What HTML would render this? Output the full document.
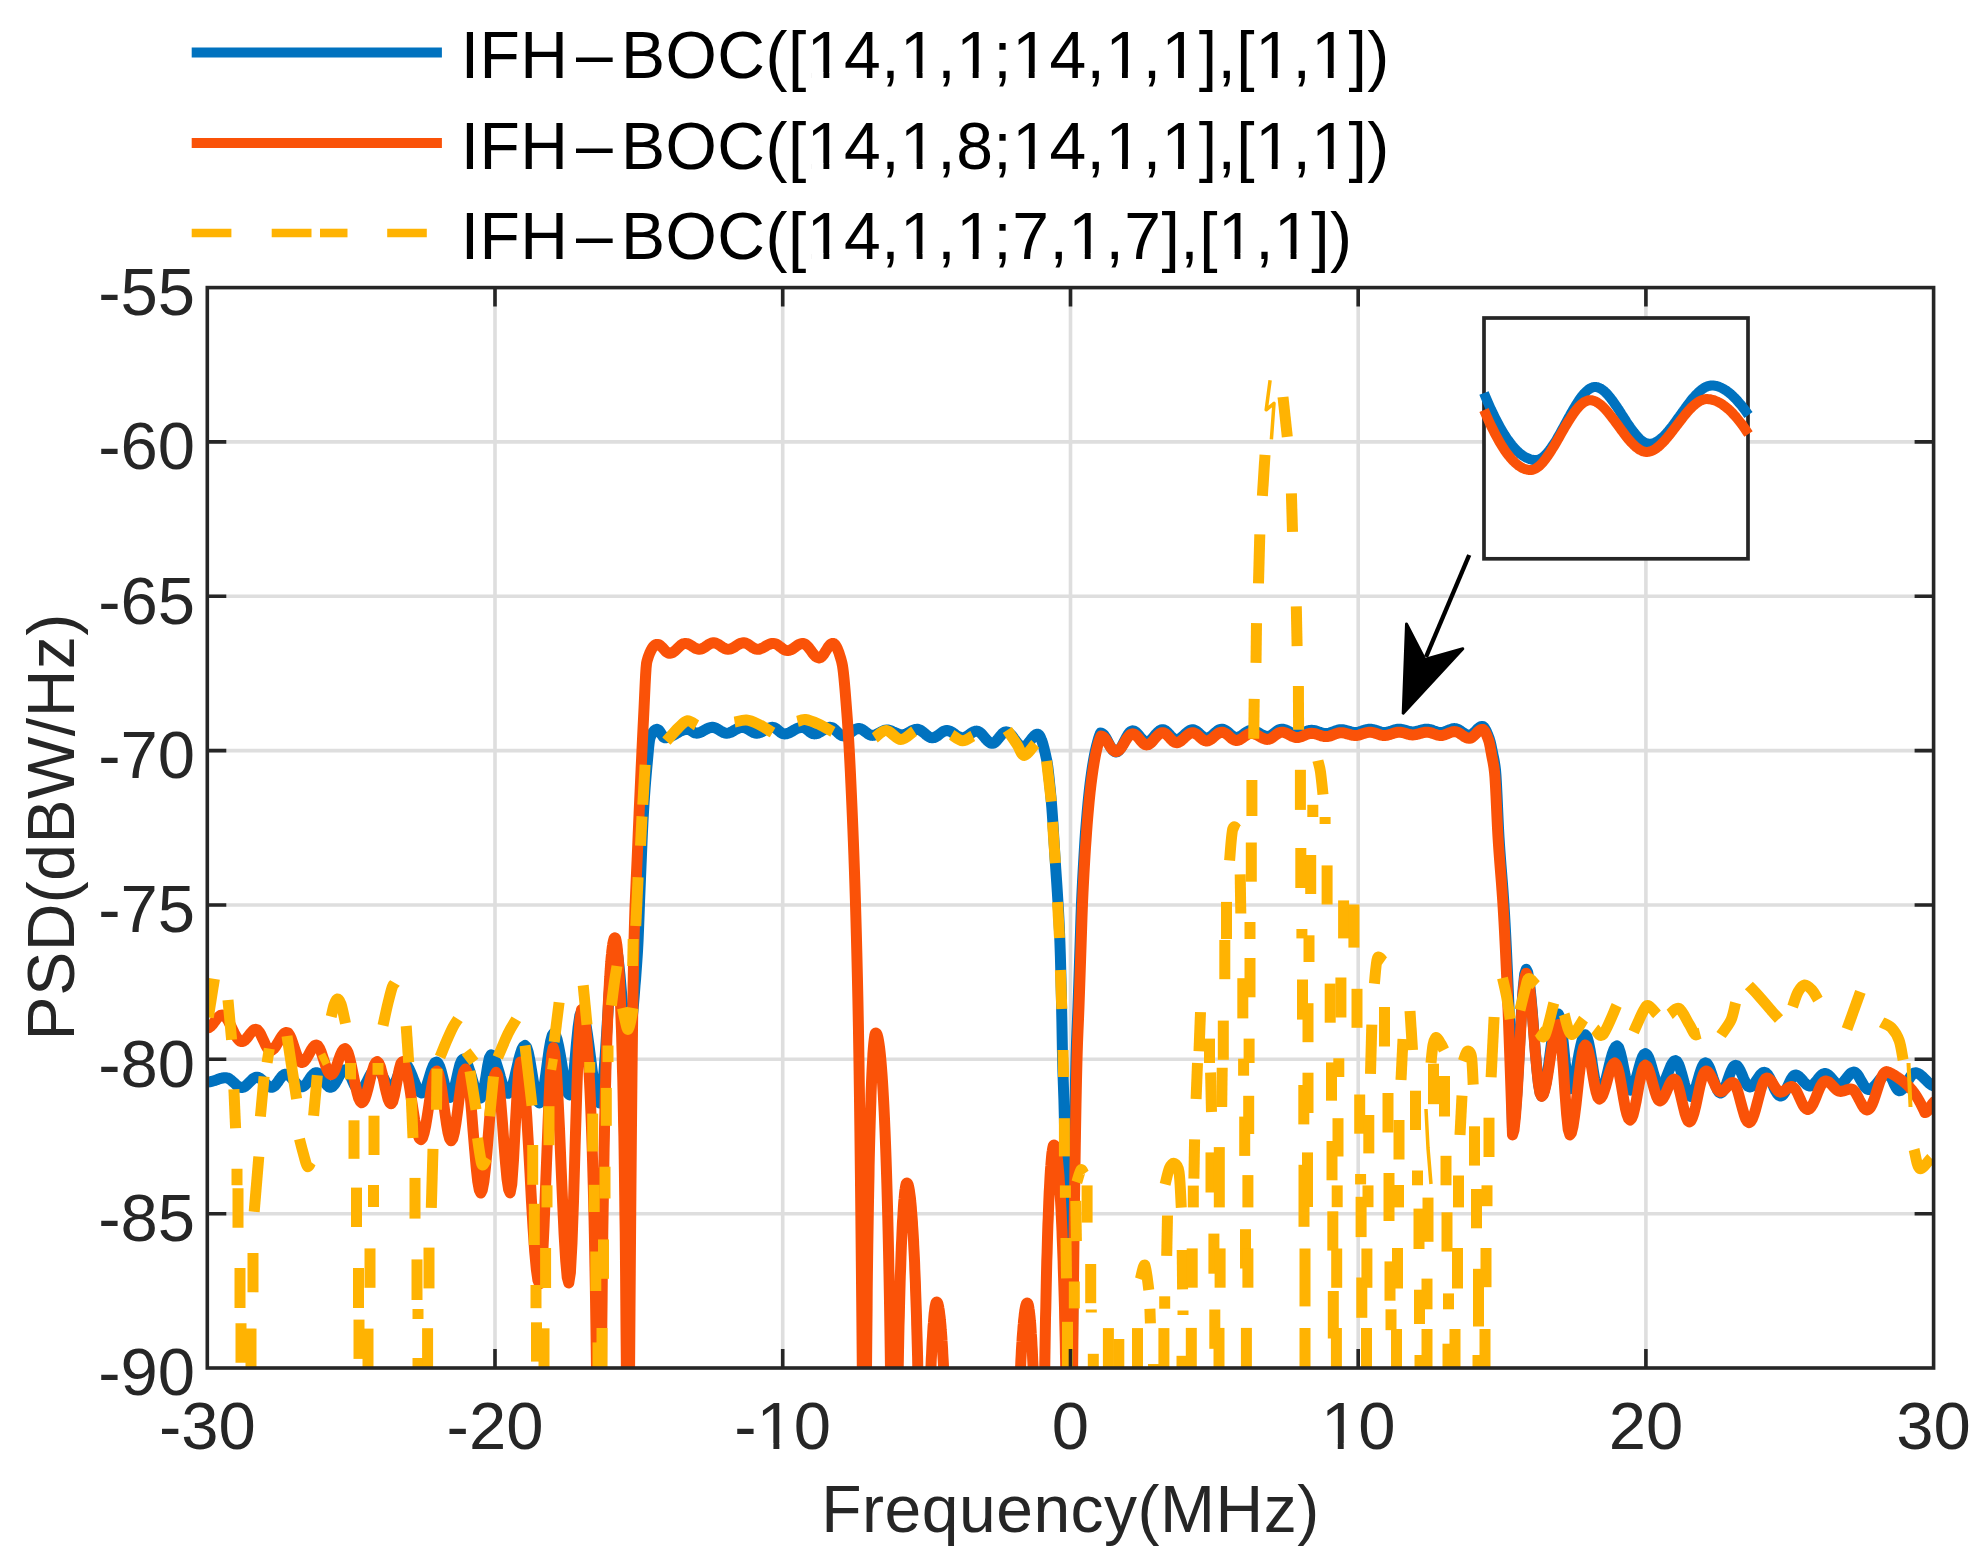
<!DOCTYPE html>
<html><head><meta charset="utf-8"><title>PSD</title>
<style>html,body{margin:0;padding:0;background:#fff;overflow:hidden}svg{display:block}</style>
</head><body>
<svg xmlns="http://www.w3.org/2000/svg" width="1983" height="1557" viewBox="0 0 1983 1557">
<rect x="0" y="0" width="1983" height="1557" fill="#ffffff"/>
<path d="M495.0 287.6V1368.0 M782.7 287.6V1368.0 M1070.5 287.6V1368.0 M1358.2 287.6V1368.0 M1645.9 287.6V1368.0 M207.3 441.9H1933.6 M207.3 596.3H1933.6 M207.3 750.6H1933.6 M207.3 905.0H1933.6 M207.3 1059.3H1933.6 M207.3 1213.7H1933.6" stroke="#dedede" stroke-width="3.6" fill="none"/>
<clipPath id="ax"><rect x="207.3" y="287.6" width="1726.3" height="1080.4"/></clipPath>
<g clip-path="url(#ax)">
<path d="M207.3 1082.0 208.8 1081.9 210.4 1081.7 211.9 1081.4 213.4 1080.9 215.0 1080.4 216.5 1079.9 218.0 1079.3 219.6 1078.8 221.1 1078.3 222.6 1078.0 224.2 1077.8 225.7 1077.7 227.3 1077.9 228.9 1078.6 230.5 1079.7 232.1 1081.1 233.8 1082.6 235.4 1084.1 237.0 1085.5 238.6 1086.6 240.2 1087.3 241.8 1087.5 243.3 1087.2 244.8 1086.5 246.3 1085.4 247.8 1083.9 249.3 1082.4 250.9 1080.8 252.4 1079.3 253.9 1078.2 255.4 1077.5 256.9 1077.2 258.5 1077.5 260.2 1078.4 261.8 1079.7 263.4 1081.4 265.1 1083.1 266.7 1084.8 268.3 1086.1 270.0 1087.0 271.6 1087.3 273.2 1086.9 274.7 1085.8 276.3 1084.0 277.9 1081.9 279.4 1079.6 281.0 1077.5 282.6 1075.7 284.1 1074.6 285.7 1074.2 287.3 1074.5 288.9 1075.4 290.5 1076.8 292.1 1078.6 293.8 1080.5 295.4 1082.4 297.0 1084.2 298.6 1085.6 300.2 1086.5 301.8 1086.8 303.4 1086.4 305.0 1085.2 306.7 1083.3 308.3 1081.0 309.9 1078.5 311.5 1076.2 313.2 1074.3 314.8 1073.1 316.4 1072.7 318.0 1073.1 319.6 1074.4 321.1 1076.3 322.7 1078.7 324.3 1081.3 325.9 1083.6 327.4 1085.6 329.0 1086.9 330.6 1087.3 332.2 1086.8 333.8 1085.2 335.5 1082.9 337.1 1080.0 338.7 1077.0 340.3 1074.1 342.0 1071.8 343.6 1070.2 345.2 1069.7 346.8 1070.3 348.3 1072.1 349.9 1074.9 351.5 1078.3 353.0 1081.9 354.6 1085.3 356.2 1088.1 357.7 1089.9 359.3 1090.5 360.9 1090.1 362.4 1088.8 364.0 1086.7 365.6 1084.1 367.1 1081.2 368.7 1078.0 370.2 1075.1 371.8 1072.5 373.4 1070.4 374.9 1069.1 376.5 1068.7 378.1 1069.3 379.7 1071.0 381.4 1073.5 383.0 1076.7 384.6 1080.0 386.2 1083.2 387.9 1085.7 389.5 1087.4 391.1 1088.0 392.8 1087.1 394.5 1084.5 396.1 1080.6 397.8 1076.0 399.5 1071.4 401.1 1067.5 402.8 1064.9 404.5 1064.0 406.1 1064.6 407.7 1066.3 409.2 1069.0 410.8 1072.5 412.4 1076.4 414.0 1080.6 415.6 1084.5 417.2 1088.0 418.7 1090.7 420.3 1092.4 421.9 1093.0 423.5 1092.1 425.1 1089.4 426.8 1085.2 428.4 1080.2 430.0 1074.8 431.6 1069.8 433.3 1065.6 434.9 1062.9 436.5 1062.0 438.0 1063.1 439.5 1066.1 441.1 1070.8 442.6 1076.6 444.1 1082.7 445.6 1088.5 447.2 1093.2 448.7 1096.2 450.2 1097.3 451.8 1095.8 453.4 1091.7 455.1 1085.5 456.7 1078.2 458.3 1070.8 459.9 1064.6 461.6 1060.5 463.2 1059.0 464.8 1059.8 466.4 1062.1 468.0 1065.7 469.6 1070.4 471.2 1075.7 472.8 1081.3 474.4 1086.6 476.0 1091.3 477.6 1094.9 479.2 1097.2 480.8 1098.0 482.5 1095.1 484.2 1087.2 486.0 1076.4 487.7 1065.6 489.4 1057.7 491.1 1054.8 492.6 1055.6 494.2 1057.9 495.7 1061.4 497.2 1066.1 498.8 1071.3 500.3 1076.8 501.9 1082.0 503.4 1086.7 504.9 1090.2 506.5 1092.5 508.0 1093.3 509.5 1092.3 511.1 1089.5 512.6 1085.1 514.2 1079.3 515.7 1072.8 517.3 1066.0 518.8 1059.5 520.4 1053.7 521.9 1049.3 523.5 1046.5 525.0 1045.5 526.6 1047.2 528.2 1052.2 529.8 1059.9 531.4 1069.3 533.0 1079.3 534.6 1088.7 536.2 1096.4 537.8 1101.4 539.4 1103.1 541.0 1101.0 542.6 1094.9 544.2 1085.6 545.8 1074.2 547.4 1062.1 549.0 1050.7 550.6 1041.4 552.2 1035.3 553.8 1033.2 555.4 1034.7 557.0 1039.1 558.6 1045.9 560.2 1054.5 561.8 1064.0 563.3 1073.6 564.9 1082.2 566.5 1089.0 568.1 1093.4 569.7 1094.9 571.4 1090.8 573.1 1079.2 574.8 1062.5 576.4 1044.0 578.1 1027.3 579.8 1015.7 581.5 1011.6 583.0 1013.2 584.5 1017.7 586.0 1025.0 587.5 1034.5 589.0 1045.5 590.5 1057.3 592.0 1069.1 593.5 1080.2 595.0 1089.6 596.5 1096.9 598.0 1101.4 599.5 1103.0 601.0 1099.1 602.6 1087.9 604.1 1070.4 605.7 1048.4 607.2 1024.0 608.8 999.6 610.4 977.6 611.9 960.1 613.5 948.9 615.0 945.0 616.6 948.6 618.2 958.9 619.9 974.3 621.5 992.5 623.1 1010.7 624.8 1026.1 626.4 1036.4 628.0 1040.0 628.5 1039.7 629.0 1038.6 629.5 1037.0 630.0 1034.7 630.5 1031.8 631.0 1028.4 631.5 1024.5 632.0 1020.2 632.5 1015.3 633.0 1010.1 633.5 1004.5 634.0 998.5 634.5 992.3 635.0 985.7 635.6 978.9 636.1 971.9 636.6 964.8 637.1 957.5 637.6 950.0 638.1 940.3 638.6 927.9 639.1 914.2 639.6 900.5 640.1 888.1 640.6 876.0 641.1 863.8 641.6 851.7 642.1 840.0 642.6 829.0 643.1 819.0 643.6 810.2 644.1 802.3 644.6 795.0 645.1 788.1 645.6 781.7 646.1 775.7 646.6 770.0 647.1 764.6 647.6 759.1 648.1 753.5 648.6 748.1 649.1 743.5 649.6 739.8 650.2 737.4 650.7 736.2 651.2 735.2 651.7 734.3 652.2 733.5 652.7 732.7 653.2 732.0 653.7 731.4 654.2 730.8 654.7 730.4 655.2 730.0 655.7 729.7 656.2 729.5 656.7 729.3 657.2 729.3 658.8 730.1 660.3 732.2 661.9 734.9 663.4 737.0 665.0 737.8 666.6 737.7 668.2 737.4 669.8 736.9 671.4 736.2 673.0 735.4 674.6 734.5 676.2 733.5 677.8 732.6 679.4 731.7 681.0 730.9 682.6 730.2 684.2 729.7 685.8 729.4 687.4 729.3 688.9 729.6 690.4 730.3 692.0 731.2 693.5 732.2 695.0 732.9 696.5 733.2 698.1 733.1 699.7 732.6 701.2 732.0 702.8 731.2 704.4 730.2 706.0 729.3 707.6 728.5 709.1 727.9 710.7 727.4 712.3 727.3 713.9 727.5 715.5 728.0 717.1 728.8 718.7 729.7 720.3 730.8 721.9 731.7 723.5 732.5 725.1 733.0 726.7 733.2 728.3 733.1 729.8 732.6 731.4 732.0 733.0 731.2 734.5 730.2 736.1 729.3 737.7 728.5 739.3 727.9 740.8 727.4 742.4 727.3 744.0 727.5 745.6 728.0 747.2 728.8 748.8 729.7 750.4 730.8 752.0 731.7 753.6 732.5 755.2 733.0 756.8 733.2 758.4 733.1 760.0 732.6 761.5 732.0 763.1 731.2 764.7 730.2 766.3 729.3 767.9 728.5 769.4 727.9 771.0 727.4 772.6 727.3 774.3 727.6 776.0 728.5 777.7 729.9 779.3 731.3 781.0 732.7 782.7 733.6 784.4 733.9 786.0 733.8 787.6 733.4 789.2 732.8 790.8 732.0 792.4 731.1 794.1 730.1 795.7 729.2 797.3 728.4 798.9 727.8 800.5 727.4 802.1 727.3 803.6 727.6 805.2 728.3 806.8 729.3 808.3 730.6 809.9 731.9 811.4 732.9 813.0 733.6 814.5 733.9 816.1 733.7 817.7 733.3 819.2 732.5 820.8 731.6 822.4 730.6 824.0 729.6 825.6 728.7 827.1 727.9 828.7 727.5 830.3 727.3 831.9 727.6 833.6 728.6 835.2 730.0 836.8 731.6 838.5 733.2 840.1 734.6 841.8 735.6 843.4 735.9 844.9 735.7 846.5 735.2 848.0 734.4 849.6 733.3 851.1 732.2 852.6 731.1 854.2 730.0 855.7 729.2 857.3 728.7 858.8 728.5 860.3 728.7 861.8 729.3 863.3 730.2 864.8 731.4 866.4 732.5 867.9 733.7 869.4 734.6 870.9 735.2 872.4 735.4 874.0 735.2 875.6 734.8 877.2 734.0 878.8 733.2 880.5 732.2 882.1 731.4 883.7 730.6 885.3 730.2 886.9 730.0 888.4 730.1 889.9 730.5 891.4 731.0 892.9 731.7 894.5 732.4 896.0 733.1 897.5 733.8 899.0 734.3 900.5 734.7 902.0 734.8 903.5 734.7 905.0 734.3 906.6 733.7 908.1 732.9 909.6 732.0 911.1 731.2 912.6 730.4 914.2 729.8 915.7 729.4 917.2 729.3 918.7 729.5 920.2 730.1 921.7 731.1 923.2 732.2 924.8 733.5 926.3 734.9 927.8 736.0 929.3 737.0 930.8 737.6 932.3 737.8 933.9 737.6 935.5 736.9 937.1 736.0 938.7 734.8 940.4 733.5 942.0 732.3 943.6 731.4 945.2 730.7 946.8 730.5 948.4 730.7 950.0 731.2 951.5 732.0 953.1 733.0 954.7 734.1 956.3 735.3 957.9 736.3 959.4 737.1 961.0 737.6 962.6 737.8 964.1 737.6 965.7 737.0 967.2 736.1 968.8 735.0 970.3 733.9 971.9 732.8 973.4 731.9 975.0 731.3 976.5 731.1 978.1 731.4 979.6 732.3 981.2 733.6 982.8 735.3 984.4 737.2 985.9 739.1 987.5 740.8 989.1 742.1 990.6 743.0 992.2 743.3 993.7 743.0 995.3 742.0 996.8 740.4 998.4 738.5 999.9 736.6 1001.5 734.7 1003.0 733.1 1004.6 732.1 1006.1 731.8 1007.6 732.1 1009.2 733.0 1010.7 734.4 1012.3 736.2 1013.8 738.3 1015.4 740.4 1016.9 742.5 1018.5 744.3 1020.0 745.7 1021.6 746.6 1023.1 746.9 1024.7 746.5 1026.3 745.4 1027.9 743.7 1029.5 741.7 1031.2 739.4 1032.8 737.4 1034.4 735.7 1036.0 734.6 1037.6 734.2 1038.1 734.3 1038.6 734.6 1039.1 735.1 1039.6 735.9 1040.1 736.7 1040.6 737.8 1041.1 739.0 1041.6 740.4 1042.2 741.9 1042.7 743.5 1043.2 745.3 1043.7 747.1 1044.2 749.1 1044.7 751.2 1045.2 753.3 1045.7 755.5 1046.2 757.8 1046.7 760.1 1047.2 762.7 1047.7 766.0 1048.2 769.9 1048.7 774.3 1049.2 779.1 1049.7 784.3 1050.3 789.8 1050.8 795.5 1051.3 801.2 1051.8 807.4 1052.3 814.2 1052.8 821.7 1053.3 829.6 1053.8 837.7 1054.3 845.9 1054.8 854.0 1055.3 861.9 1055.8 869.4 1056.3 876.7 1056.8 884.0 1057.3 891.6 1057.8 899.8 1058.4 908.9 1058.9 918.5 1059.4 929.3 1059.9 941.8 1060.4 957.0 1060.9 976.0 1061.4 997.6 1061.9 1022.2 1062.4 1050.5 1062.9 1070.9 1063.4 1085.5 1063.9 1099.9 1064.4 1119.2 1064.9 1150.5 1065.4 1191.2 1065.9 1233.6 1066.5 1273.7 1067.0 1314.3 1067.5 1355.5 1068.0 1397.3 1068.5 1439.9 1069.0 1483.2 1069.5 1527.3 1070.0 1572.2 1070.5 1618.0 1071.0 1541.6 1071.5 1469.7 1072.0 1402.6 1072.5 1340.3 1073.0 1283.2 1073.5 1231.3 1074.0 1185.0 1074.5 1144.4 1075.0 1109.8 1075.5 1081.2 1076.0 1059.0 1076.5 1042.7 1077.0 1030.2 1077.5 1018.9 1078.0 1006.3 1078.5 992.0 1079.0 977.2 1079.5 962.2 1080.0 947.3 1080.5 932.1 1081.0 916.8 1081.5 903.4 1082.0 892.3 1082.5 882.2 1083.0 873.0 1083.5 864.2 1084.0 855.6 1084.5 847.3 1085.0 839.4 1085.5 832.0 1086.1 825.1 1086.6 818.9 1087.1 813.0 1087.6 807.4 1088.1 802.1 1088.6 797.0 1089.1 792.3 1089.6 787.8 1090.1 783.6 1090.6 779.7 1091.1 776.1 1091.6 772.5 1092.1 769.1 1092.6 765.9 1093.1 762.8 1093.6 759.9 1094.1 757.2 1094.6 754.6 1095.1 752.2 1095.6 749.9 1096.1 747.8 1096.6 745.7 1097.1 743.8 1097.6 741.9 1098.1 740.1 1098.6 738.4 1099.1 736.8 1099.6 735.4 1100.1 734.1 1100.6 733.0 1102.1 733.5 1103.7 734.8 1105.2 736.9 1106.8 739.6 1108.3 742.5 1109.8 745.4 1111.4 748.1 1112.9 750.2 1114.5 751.5 1116.0 752.0 1117.5 751.6 1119.0 750.3 1120.6 748.3 1122.1 745.8 1123.6 742.9 1125.1 739.9 1126.6 737.0 1128.1 734.5 1129.7 732.5 1131.2 731.2 1132.7 730.8 1134.2 731.1 1135.8 732.1 1137.3 733.6 1138.9 735.4 1140.4 737.3 1142.0 739.1 1143.5 740.6 1145.1 741.6 1146.6 741.9 1148.2 741.6 1149.8 740.7 1151.4 739.4 1153.0 737.7 1154.6 735.8 1156.2 733.9 1157.8 732.2 1159.4 730.9 1161.0 730.0 1162.6 729.7 1164.1 730.0 1165.7 730.9 1167.2 732.2 1168.8 733.8 1170.3 735.6 1171.9 737.2 1173.4 738.5 1175.0 739.4 1176.5 739.7 1178.1 739.5 1179.7 738.7 1181.3 737.6 1182.9 736.2 1184.5 734.7 1186.2 733.2 1187.8 731.8 1189.4 730.7 1191.0 729.9 1192.6 729.7 1194.1 730.0 1195.7 730.7 1197.2 731.8 1198.8 733.1 1200.3 734.6 1201.9 735.9 1203.4 737.0 1205.0 737.7 1206.5 738.0 1208.0 737.8 1209.6 737.2 1211.2 736.2 1212.7 735.0 1214.2 733.6 1215.8 732.2 1217.3 731.0 1218.9 730.0 1220.5 729.4 1222.0 729.2 1223.6 729.5 1225.2 730.2 1226.8 731.3 1228.4 732.6 1230.0 734.1 1231.6 735.4 1233.2 736.5 1234.8 737.2 1236.4 737.5 1237.9 737.3 1239.4 736.8 1240.9 736.0 1242.4 735.0 1243.9 733.9 1245.4 732.8 1246.9 731.8 1248.4 731.0 1249.9 730.5 1251.4 730.3 1253.0 730.4 1254.6 730.9 1256.2 731.6 1257.8 732.4 1259.5 733.3 1261.1 734.3 1262.7 735.1 1264.3 735.8 1265.9 736.3 1267.5 736.4 1269.1 736.2 1270.7 735.6 1272.3 734.6 1273.9 733.4 1275.5 732.2 1277.1 731.0 1278.7 730.0 1280.3 729.4 1281.9 729.2 1283.4 729.3 1284.9 729.7 1286.4 730.3 1287.9 731.0 1289.5 731.9 1291.0 732.7 1292.5 733.4 1294.0 734.0 1295.5 734.4 1297.0 734.5 1298.6 734.4 1300.2 734.0 1301.9 733.5 1303.5 732.8 1305.1 732.0 1306.7 731.4 1308.4 730.8 1310.0 730.4 1311.6 730.3 1313.2 730.4 1314.8 730.7 1316.4 731.1 1318.0 731.7 1319.7 732.2 1321.3 732.8 1322.9 733.2 1324.5 733.5 1326.1 733.6 1327.8 733.5 1329.4 733.1 1331.1 732.6 1332.7 732.0 1334.4 731.3 1336.0 730.7 1337.7 730.2 1339.3 729.8 1341.0 729.7 1342.6 729.8 1344.2 730.0 1345.8 730.4 1347.4 730.9 1349.1 731.3 1350.7 731.8 1352.3 732.2 1353.9 732.4 1355.5 732.5 1357.1 732.4 1358.7 732.1 1360.3 731.7 1361.9 731.1 1363.5 730.6 1365.1 730.0 1366.7 729.6 1368.3 729.3 1369.9 729.2 1371.5 729.3 1373.1 729.6 1374.7 730.0 1376.3 730.6 1377.9 731.1 1379.5 731.7 1381.1 732.1 1382.7 732.4 1384.3 732.5 1385.8 732.4 1387.3 732.2 1388.8 731.8 1390.3 731.4 1391.8 730.9 1393.3 730.3 1394.8 729.9 1396.3 729.5 1397.8 729.3 1399.3 729.2 1401.0 729.3 1402.6 729.6 1404.3 730.0 1405.9 730.5 1407.6 731.1 1409.3 731.5 1410.9 731.8 1412.6 731.9 1414.2 731.8 1415.8 731.6 1417.4 731.2 1419.0 730.8 1420.6 730.3 1422.2 729.9 1423.8 729.5 1425.4 729.3 1427.0 729.2 1428.5 729.3 1430.1 729.6 1431.6 730.0 1433.2 730.6 1434.7 731.1 1436.3 731.7 1437.8 732.1 1439.4 732.4 1440.9 732.5 1442.4 732.4 1444.0 732.0 1445.5 731.5 1447.0 730.9 1448.6 730.2 1450.1 729.6 1451.6 729.1 1453.2 728.7 1454.7 728.6 1456.3 728.8 1457.9 729.4 1459.5 730.3 1461.1 731.4 1462.8 732.5 1464.4 733.6 1466.0 734.5 1467.6 735.1 1469.2 735.3 1470.9 735.0 1472.5 734.0 1474.2 732.6 1475.8 730.9 1477.5 729.1 1479.2 727.7 1480.8 726.7 1482.5 726.4 1483.0 726.6 1483.5 727.0 1484.0 727.5 1484.5 728.2 1485.0 728.9 1485.5 729.8 1486.0 730.8 1486.5 731.9 1487.0 733.0 1487.5 734.2 1488.0 735.4 1488.5 736.7 1489.0 738.0 1489.5 739.5 1490.0 741.2 1490.5 743.2 1491.0 745.3 1491.5 747.6 1492.0 750.0 1492.5 752.5 1493.0 755.0 1493.5 757.4 1494.0 759.9 1494.5 762.7 1495.0 766.0 1495.5 770.0 1496.0 776.0 1496.5 784.5 1497.0 794.8 1497.5 805.9 1498.0 817.3 1498.5 827.9 1499.0 837.0 1499.5 844.8 1500.0 851.9 1500.5 858.7 1501.0 865.1 1501.5 871.4 1502.0 877.7 1502.5 884.0 1503.0 890.6 1503.5 897.6 1504.0 905.2 1504.5 913.4 1505.0 922.1 1505.5 931.4 1506.0 941.1 1506.5 951.3 1507.0 961.9 1507.5 972.8 1508.0 984.1 1508.5 995.6 1509.0 1007.1 1509.5 1018.9 1510.0 1031.5 1510.5 1045.4 1511.0 1061.1 1511.5 1079.8 1512.0 1103.5 1512.5 1130.0 1514.0 1125.2 1515.5 1111.2 1517.1 1089.8 1518.6 1063.6 1520.1 1035.7 1521.6 1009.5 1523.2 988.1 1524.7 974.1 1526.2 969.3 1527.7 972.4 1529.3 981.4 1530.8 995.4 1532.4 1013.1 1533.9 1032.6 1535.4 1052.2 1537.0 1069.9 1538.5 1083.9 1540.1 1092.9 1541.6 1096.0 1543.1 1094.3 1544.6 1089.5 1546.2 1081.8 1547.7 1072.0 1549.2 1060.8 1550.7 1049.2 1552.2 1038.0 1553.7 1028.2 1555.3 1020.5 1556.8 1015.7 1558.3 1014.0 1560.0 1017.7 1561.6 1028.1 1563.3 1043.0 1564.9 1059.7 1566.6 1074.6 1568.2 1085.0 1569.9 1088.7 1571.4 1087.4 1573.0 1083.6 1574.5 1077.6 1576.1 1070.1 1577.6 1061.8 1579.1 1053.4 1580.7 1045.9 1582.2 1039.9 1583.8 1036.1 1585.3 1034.8 1586.9 1036.6 1588.4 1041.7 1590.0 1049.5 1591.6 1059.2 1593.1 1069.4 1594.7 1079.0 1596.3 1086.9 1597.8 1092.0 1599.4 1093.8 1601.0 1092.8 1602.6 1090.0 1604.2 1085.6 1605.8 1079.8 1607.4 1073.3 1609.0 1066.5 1610.6 1060.0 1612.2 1054.2 1613.8 1049.8 1615.4 1047.0 1617.0 1046.0 1618.7 1047.7 1620.3 1052.4 1622.0 1059.6 1623.7 1068.0 1625.4 1076.4 1627.1 1083.6 1628.7 1088.3 1630.4 1090.0 1631.9 1089.1 1633.4 1086.5 1634.9 1082.5 1636.4 1077.4 1637.9 1071.8 1639.4 1066.2 1640.9 1061.1 1642.4 1057.1 1643.9 1054.5 1645.4 1053.6 1647.0 1054.6 1648.6 1057.5 1650.2 1061.9 1651.8 1067.4 1653.5 1073.2 1655.1 1078.6 1656.7 1083.1 1658.3 1086.0 1659.9 1087.0 1661.5 1086.4 1663.0 1084.5 1664.6 1081.6 1666.1 1077.9 1667.7 1073.8 1669.3 1069.7 1670.8 1066.0 1672.4 1063.1 1673.9 1061.2 1675.5 1060.6 1677.0 1061.5 1678.5 1064.0 1680.0 1068.0 1681.5 1073.0 1683.0 1078.5 1684.5 1084.0 1686.0 1089.0 1687.5 1093.0 1689.0 1095.5 1690.5 1096.4 1692.0 1095.6 1693.5 1093.2 1695.0 1089.5 1696.5 1084.8 1698.0 1079.7 1699.5 1074.5 1701.0 1069.8 1702.5 1066.1 1704.0 1063.7 1705.5 1062.9 1707.0 1063.6 1708.5 1065.8 1710.0 1069.1 1711.5 1073.3 1713.0 1078.0 1714.6 1082.6 1716.1 1086.8 1717.6 1090.1 1719.1 1092.3 1720.6 1093.0 1722.1 1092.3 1723.6 1090.3 1725.1 1087.3 1726.6 1083.4 1728.1 1079.1 1729.6 1074.8 1731.1 1070.9 1732.6 1067.9 1734.1 1065.9 1735.6 1065.2 1737.2 1065.9 1738.7 1067.8 1740.3 1070.7 1741.9 1074.2 1743.4 1078.0 1745.0 1081.5 1746.6 1084.4 1748.1 1086.3 1749.7 1087.0 1751.3 1086.6 1753.0 1085.3 1754.6 1083.3 1756.2 1080.9 1757.9 1078.4 1759.5 1076.0 1761.1 1074.0 1762.8 1072.7 1764.4 1072.3 1766.0 1072.9 1767.6 1074.6 1769.3 1077.2 1770.9 1080.5 1772.5 1084.1 1774.1 1087.8 1775.7 1091.1 1777.4 1093.7 1779.0 1095.4 1780.6 1096.0 1782.1 1095.5 1783.6 1094.0 1785.1 1091.7 1786.6 1088.7 1788.1 1085.5 1789.6 1082.3 1791.1 1079.3 1792.6 1077.0 1794.1 1075.5 1795.6 1075.0 1797.2 1075.3 1798.8 1076.3 1800.3 1077.8 1801.9 1079.5 1803.5 1081.5 1805.1 1083.2 1806.6 1084.7 1808.2 1085.7 1809.8 1086.0 1811.3 1085.7 1812.8 1084.8 1814.4 1083.4 1815.9 1081.7 1817.4 1079.8 1818.9 1077.8 1820.4 1076.1 1822.0 1074.7 1823.5 1073.8 1825.0 1073.5 1826.6 1073.8 1828.2 1074.8 1829.7 1076.2 1831.3 1078.0 1832.9 1079.9 1834.5 1081.7 1836.0 1083.1 1837.6 1084.1 1839.2 1084.4 1840.8 1084.0 1842.4 1083.0 1844.1 1081.3 1845.7 1079.3 1847.3 1077.2 1848.9 1075.2 1850.6 1073.5 1852.2 1072.5 1853.8 1072.1 1855.4 1072.6 1857.1 1074.1 1858.7 1076.4 1860.3 1079.3 1862.0 1082.3 1863.6 1085.1 1865.2 1087.5 1866.9 1089.0 1868.5 1089.5 1870.1 1089.2 1871.7 1088.5 1873.3 1087.2 1874.9 1085.6 1876.5 1083.8 1878.2 1081.8 1879.8 1079.7 1881.4 1077.9 1883.0 1076.3 1884.6 1075.0 1886.2 1074.3 1887.8 1074.0 1889.5 1074.8 1891.1 1077.1 1892.8 1080.5 1894.4 1084.2 1896.1 1087.6 1897.7 1089.9 1899.4 1090.7 1901.0 1090.3 1902.6 1089.0 1904.2 1087.0 1905.8 1084.5 1907.4 1081.8 1909.0 1079.0 1910.6 1076.5 1912.2 1074.5 1913.8 1073.2 1915.4 1072.8 1916.9 1073.0 1918.4 1073.6 1919.9 1074.5 1921.4 1075.7 1922.9 1077.1 1924.4 1078.6 1926.0 1080.2 1927.5 1081.7 1929.0 1083.1 1930.5 1084.3 1932.0 1085.2 1933.5 1085.8 1935.0 1086.0" fill="none" stroke="#0072bf" stroke-width="11.0" stroke-linejoin="round" />
<path d="M207.3 1028.0 208.9 1027.6 210.6 1026.5 212.2 1024.8 213.9 1022.6 215.5 1020.4 217.2 1018.2 218.8 1016.5 220.5 1015.4 222.1 1015.0 223.6 1015.4 225.1 1016.5 226.6 1018.3 228.2 1020.7 229.7 1023.6 231.2 1026.7 232.7 1029.9 234.2 1033.0 235.7 1035.9 237.3 1038.3 238.8 1040.1 240.3 1041.2 241.8 1041.6 243.4 1041.2 244.9 1040.2 246.5 1038.5 248.1 1036.5 249.6 1034.4 251.2 1032.4 252.8 1030.7 254.3 1029.7 255.9 1029.3 257.5 1029.9 259.2 1031.8 260.8 1034.6 262.4 1038.1 264.1 1041.7 265.7 1045.2 267.3 1048.0 269.0 1049.9 270.6 1050.5 272.2 1050.1 273.8 1048.8 275.4 1046.8 277.0 1044.2 278.6 1041.5 280.3 1038.7 281.9 1036.1 283.5 1034.1 285.1 1032.8 286.7 1032.4 288.2 1033.1 289.7 1035.3 291.2 1038.6 292.7 1042.8 294.2 1047.5 295.8 1052.2 297.3 1056.4 298.8 1059.7 300.3 1061.9 301.8 1062.6 303.4 1062.1 305.0 1060.5 306.7 1058.2 308.3 1055.3 309.9 1052.3 311.5 1049.4 313.2 1047.1 314.8 1045.5 316.4 1045.0 318.0 1045.9 319.7 1048.5 321.3 1052.4 322.9 1057.3 324.6 1062.4 326.2 1067.3 327.8 1071.2 329.5 1073.8 331.1 1074.7 332.6 1073.9 334.2 1071.6 335.7 1068.2 337.3 1063.9 338.8 1059.3 340.4 1055.0 341.9 1051.6 343.5 1049.3 345.0 1048.5 346.5 1049.6 348.1 1052.8 349.6 1057.9 351.1 1064.3 352.6 1071.7 354.2 1079.5 355.7 1086.9 357.2 1093.3 358.7 1098.4 360.3 1101.6 361.8 1102.7 363.3 1101.7 364.9 1098.8 366.4 1094.2 368.0 1088.5 369.5 1082.2 371.0 1075.8 372.6 1070.1 374.1 1065.5 375.7 1062.6 377.2 1061.6 378.7 1062.9 380.3 1066.5 381.8 1072.1 383.4 1079.0 384.9 1086.4 386.5 1093.2 388.0 1098.9 389.6 1102.5 391.1 1103.8 392.7 1101.7 394.3 1095.9 395.9 1087.4 397.6 1078.0 399.2 1069.5 400.8 1063.7 402.4 1061.6 403.9 1062.9 405.5 1066.8 407.0 1073.0 408.6 1081.1 410.1 1090.5 411.6 1100.6 413.2 1110.8 414.7 1120.2 416.3 1128.3 417.8 1134.5 419.4 1138.4 420.9 1139.7 422.5 1138.0 424.1 1133.1 425.7 1125.5 427.3 1115.9 428.9 1105.3 430.4 1094.7 432.0 1085.1 433.6 1077.5 435.2 1072.6 436.8 1070.9 438.4 1073.0 440.0 1079.1 441.6 1088.4 443.2 1099.8 444.8 1111.9 446.4 1123.3 448.0 1132.6 449.6 1138.7 451.2 1140.8 452.8 1138.6 454.4 1132.4 456.0 1122.8 457.6 1111.1 459.1 1098.7 460.7 1087.0 462.3 1077.4 463.9 1071.2 465.5 1069.0 467.0 1072.0 468.6 1080.8 470.1 1094.6 471.6 1111.8 473.1 1131.0 474.7 1150.2 476.2 1167.4 477.7 1181.2 479.3 1190.0 480.8 1193.0 482.3 1190.0 483.9 1181.5 485.4 1168.1 487.0 1151.3 488.5 1132.7 490.0 1114.0 491.6 1097.2 493.1 1083.8 494.7 1075.3 496.2 1072.3 497.7 1075.9 499.3 1086.4 500.8 1102.5 502.4 1122.2 503.9 1143.1 505.5 1162.8 507.0 1178.9 508.6 1189.4 510.1 1193.0 511.8 1184.2 513.5 1160.2 515.2 1127.5 517.0 1094.8 518.7 1070.8 520.4 1062.0 522.0 1065.8 523.6 1076.9 525.2 1094.5 526.8 1117.5 528.4 1144.3 530.0 1173.0 531.5 1201.7 533.1 1228.5 534.7 1251.5 536.3 1269.1 537.9 1280.2 539.5 1284.0 541.0 1276.9 542.6 1256.3 544.1 1224.9 545.6 1186.3 547.2 1145.3 548.7 1106.7 550.2 1075.3 551.8 1054.7 553.3 1047.6 554.8 1053.4 556.4 1070.1 557.9 1096.1 559.5 1128.9 561.0 1165.3 562.6 1201.7 564.1 1234.5 565.7 1260.5 567.2 1277.2 568.8 1283.0 570.4 1272.6 572.0 1243.0 573.6 1198.6 575.1 1146.3 576.7 1094.0 578.3 1049.6 579.9 1020.0 581.5 1009.6 581.8 1009.7 582.1 1010.0 582.4 1010.4 582.7 1011.1 583.0 1011.9 583.3 1012.9 583.6 1014.1 583.9 1015.5 584.2 1017.1 584.5 1018.9 584.8 1020.9 585.1 1023.1 585.4 1025.4 585.7 1028.0 586.0 1030.8 586.3 1033.8 586.6 1037.1 586.9 1040.5 587.2 1044.2 587.5 1048.2 587.8 1052.3 588.1 1056.8 588.4 1061.5 588.7 1066.4 589.0 1071.7 589.3 1077.2 589.6 1083.0 589.9 1089.2 590.2 1095.7 590.5 1102.5 590.8 1109.7 591.1 1117.3 591.4 1125.3 591.7 1133.8 592.0 1142.7 592.3 1152.1 592.6 1162.0 592.9 1172.5 593.2 1183.6 593.5 1195.4 593.8 1208.0 594.1 1221.3 594.4 1235.6 594.7 1250.8 595.0 1267.1 595.3 1284.7 595.6 1303.8 595.9 1324.5 596.2 1347.1 596.5 1372.0 596.8 1399.7 597.1 1430.7 597.4 1466.1 597.7 1507.0 598.0 1555.5 598.3 1615.1 598.6 1618.0 598.9 1618.0 599.2 1618.0 599.5 1618.0 599.8 1618.0 600.0 1618.0 600.3 1618.0 600.5 1543.3 600.8 1483.7 601.0 1435.2 601.3 1394.3 601.6 1358.9 601.8 1327.9 602.1 1300.2 602.3 1275.3 602.6 1252.7 602.8 1232.0 603.1 1212.9 603.4 1195.3 603.6 1179.0 603.9 1163.8 604.1 1149.5 604.4 1136.2 604.6 1123.6 604.9 1111.8 605.1 1100.7 605.4 1090.2 605.7 1080.3 605.9 1070.9 606.2 1062.0 606.4 1053.5 606.7 1045.5 606.9 1037.9 607.2 1030.7 607.5 1023.9 607.7 1017.4 608.0 1011.2 608.2 1005.4 608.5 999.9 608.7 994.6 609.0 989.7 609.3 985.0 609.5 980.5 609.8 976.4 610.0 972.4 610.3 968.7 610.5 965.3 610.8 962.0 611.0 959.0 611.3 956.2 611.6 953.6 611.8 951.3 612.1 949.1 612.3 947.1 612.6 945.3 612.8 943.7 613.1 942.3 613.4 941.1 613.6 940.1 613.9 939.3 614.1 938.6 614.4 938.2 614.6 937.9 614.9 937.8 615.1 937.9 615.3 938.2 615.6 938.6 615.8 939.3 616.0 940.1 616.2 941.1 616.4 942.3 616.6 943.7 616.9 945.3 617.1 947.1 617.3 949.1 617.5 951.3 617.7 953.6 618.0 956.2 618.2 959.0 618.4 962.0 618.6 965.3 618.8 968.7 619.0 972.4 619.3 976.4 619.5 980.5 619.7 985.0 619.9 989.7 620.1 994.6 620.4 999.9 620.6 1005.4 620.8 1011.2 621.0 1017.4 621.2 1023.9 621.5 1030.7 621.7 1037.9 621.9 1045.5 622.1 1053.5 622.3 1062.0 622.5 1070.9 622.8 1080.3 623.0 1090.2 623.2 1100.7 623.4 1111.8 623.6 1123.6 623.9 1136.2 624.1 1149.5 624.3 1163.8 624.5 1179.0 624.7 1195.3 624.9 1212.9 625.2 1232.0 625.4 1252.7 625.6 1275.3 625.8 1300.2 626.0 1327.9 626.3 1358.9 626.5 1394.3 626.7 1435.2 626.9 1483.7 627.1 1543.3 627.3 1618.0 627.6 1618.0 627.8 1618.0 628.0 1618.0 628.5 1535.3 629.0 1455.9 629.5 1380.1 630.0 1308.5 630.5 1241.5 631.0 1179.6 631.5 1123.2 632.0 1073.0 632.5 1029.2 633.0 992.4 633.5 963.1 634.0 941.2 634.5 923.1 635.0 907.7 635.6 894.2 636.1 882.2 636.6 871.0 637.1 860.0 637.6 848.6 638.1 836.5 638.6 824.7 639.1 813.3 639.6 802.2 640.1 791.2 640.6 780.3 641.1 769.3 641.6 758.4 642.1 747.5 642.6 736.9 643.1 726.7 643.6 716.9 644.1 706.7 644.6 695.8 645.1 685.1 645.6 675.4 646.1 667.7 646.6 662.9 647.1 660.8 647.6 659.1 648.1 657.5 648.6 656.0 649.1 654.7 649.6 653.4 650.2 652.1 650.7 651.0 651.2 650.0 651.7 649.1 652.2 648.2 652.7 647.5 653.2 646.8 653.7 646.2 654.2 645.7 654.7 645.3 655.2 645.0 655.7 644.7 656.2 644.5 656.7 644.4 657.2 644.4 658.8 644.7 660.3 645.7 661.9 647.1 663.5 648.8 665.0 650.6 666.6 652.0 668.1 653.0 669.7 653.3 671.3 653.1 672.8 652.4 674.4 651.3 676.0 649.9 677.5 648.4 679.1 646.8 680.7 645.4 682.3 644.3 683.8 643.6 685.4 643.4 686.9 643.6 688.5 644.1 690.0 644.9 691.5 645.8 693.1 646.9 694.6 647.8 696.1 648.6 697.7 649.1 699.2 649.3 700.8 649.1 702.4 648.5 704.0 647.7 705.6 646.6 707.2 645.5 708.8 644.4 710.4 643.6 712.0 643.0 713.6 642.8 715.2 643.0 716.8 643.6 718.4 644.4 720.0 645.5 721.6 646.6 723.2 647.7 724.8 648.5 726.4 649.1 728.0 649.3 729.6 649.1 731.1 648.7 732.7 648.0 734.3 647.1 735.9 646.0 737.4 645.0 739.0 644.1 740.6 643.4 742.1 643.0 743.7 642.8 745.2 643.0 746.8 643.6 748.3 644.4 749.8 645.5 751.4 646.6 752.9 647.7 754.4 648.5 756.0 649.1 757.5 649.3 759.1 649.2 760.6 648.7 762.2 648.1 763.8 647.3 765.4 646.4 766.9 645.4 768.5 644.6 770.1 644.0 771.6 643.5 773.2 643.4 774.8 643.6 776.4 644.2 778.0 645.2 779.6 646.4 781.3 647.6 782.9 648.8 784.5 649.8 786.1 650.4 787.7 650.6 789.2 650.4 790.7 649.9 792.2 649.1 793.7 648.1 795.2 647.0 796.7 645.9 798.2 644.9 799.7 644.1 801.2 643.6 802.7 643.4 804.3 643.8 806.0 644.8 807.6 646.4 809.3 648.4 810.9 650.6 812.5 652.9 814.2 654.9 815.8 656.5 817.5 657.5 819.1 657.9 820.6 657.5 822.2 656.2 823.7 654.3 825.2 651.9 826.8 649.4 828.3 647.0 829.8 645.1 831.4 643.8 832.9 643.4 833.4 643.5 833.9 643.7 834.4 644.1 834.9 644.5 835.4 645.2 835.9 645.9 836.4 646.8 836.9 647.8 837.4 648.9 837.9 650.1 838.4 651.3 838.9 652.7 839.4 654.2 839.9 655.8 840.4 657.4 840.9 659.1 841.4 660.9 841.9 662.8 842.4 665.3 842.9 668.6 843.4 672.7 843.9 677.4 844.4 682.6 844.9 688.3 845.4 694.3 845.9 700.6 846.4 707.1 846.9 713.6 847.4 720.3 847.9 727.6 848.4 735.5 848.9 744.0 849.4 753.1 849.9 762.7 850.4 772.8 850.9 783.4 851.4 794.5 851.9 805.8 852.4 817.5 852.9 829.6 853.4 842.3 853.9 855.6 854.4 869.7 854.9 884.7 855.4 900.7 855.9 917.9 856.4 936.2 856.9 956.0 857.4 977.2 857.9 1000.0 858.4 1026.1 858.9 1056.8 859.4 1091.8 859.9 1131.0 860.4 1173.9 860.9 1220.2 861.4 1269.8 861.9 1322.3 862.4 1377.4 862.9 1434.8 863.4 1494.2 863.9 1555.4 864.4 1618.0 864.6 1618.0 864.8 1618.0 865.0 1618.0 865.2 1618.0 865.4 1578.9 865.5 1530.4 865.7 1489.5 865.9 1454.1 866.1 1423.1 866.3 1395.4 866.5 1370.5 866.7 1347.9 866.9 1327.2 867.1 1308.1 867.2 1290.5 867.4 1274.2 867.6 1259.0 867.8 1244.7 868.0 1231.4 868.2 1218.8 868.4 1207.0 868.6 1195.9 868.8 1185.4 869.0 1175.5 869.1 1166.1 869.3 1157.2 869.5 1148.7 869.7 1140.7 869.9 1133.1 870.1 1125.9 870.3 1119.1 870.5 1112.6 870.7 1106.4 870.9 1100.6 871.0 1095.1 871.2 1089.8 871.4 1084.9 871.6 1080.2 871.8 1075.7 872.0 1071.6 872.2 1067.6 872.4 1063.9 872.6 1060.5 872.8 1057.2 872.9 1054.2 873.1 1051.4 873.3 1048.8 873.5 1046.5 873.7 1044.3 873.9 1042.3 874.1 1040.5 874.3 1038.9 874.5 1037.5 874.7 1036.3 874.8 1035.3 875.0 1034.5 875.2 1033.8 875.4 1033.4 875.6 1033.1 875.8 1033.0 876.1 1033.1 876.4 1033.4 876.7 1033.8 877.0 1034.5 877.3 1035.3 877.6 1036.3 877.9 1037.5 878.2 1038.9 878.5 1040.5 878.8 1042.3 879.1 1044.3 879.4 1046.5 879.7 1048.8 880.0 1051.4 880.3 1054.2 880.6 1057.2 880.9 1060.5 881.2 1063.9 881.5 1067.6 881.8 1071.6 882.1 1075.7 882.4 1080.2 882.7 1084.9 883.0 1089.8 883.3 1095.1 883.6 1100.6 883.9 1106.4 884.2 1112.6 884.5 1119.1 884.8 1125.9 885.1 1133.1 885.4 1140.7 885.7 1148.7 886.0 1157.2 886.3 1166.1 886.6 1175.5 886.9 1185.4 887.2 1195.9 887.5 1207.0 887.8 1218.8 888.1 1231.4 888.4 1244.7 888.7 1259.0 889.0 1274.2 889.3 1290.5 889.6 1308.1 889.9 1327.2 890.2 1347.9 890.5 1370.5 890.8 1395.4 891.1 1423.1 891.4 1454.1 891.7 1489.5 892.0 1530.4 892.3 1578.9 892.6 1618.0 892.9 1618.0 893.2 1618.0 893.5 1618.0 893.8 1618.0 894.0 1618.0 894.2 1618.0 894.5 1618.0 894.7 1618.0 894.9 1618.0 895.1 1618.0 895.3 1618.0 895.5 1604.1 895.8 1573.1 896.0 1545.4 896.2 1520.5 896.4 1497.9 896.6 1477.2 896.9 1458.1 897.1 1440.5 897.3 1424.2 897.5 1409.0 897.7 1394.7 897.9 1381.4 898.2 1368.8 898.4 1357.0 898.6 1345.9 898.8 1335.4 899.0 1325.5 899.3 1316.1 899.5 1307.2 899.7 1298.7 899.9 1290.7 900.1 1283.1 900.3 1275.9 900.6 1269.1 900.8 1262.6 901.0 1256.4 901.2 1250.6 901.4 1245.1 901.7 1239.8 901.9 1234.9 902.1 1230.2 902.3 1225.7 902.5 1221.6 902.8 1217.6 903.0 1213.9 903.2 1210.5 903.4 1207.2 903.6 1204.2 903.8 1201.4 904.1 1198.8 904.3 1196.5 904.5 1194.3 904.7 1192.3 904.9 1190.5 905.2 1188.9 905.4 1187.5 905.6 1186.3 905.8 1185.3 906.0 1184.5 906.2 1183.8 906.5 1183.4 906.7 1183.1 906.9 1183.0 907.2 1183.1 907.4 1183.4 907.7 1183.8 908.0 1184.5 908.3 1185.3 908.5 1186.3 908.8 1187.5 909.1 1188.9 909.4 1190.5 909.6 1192.3 909.9 1194.3 910.2 1196.5 910.5 1198.8 910.7 1201.4 911.0 1204.2 911.3 1207.2 911.5 1210.5 911.8 1213.9 912.1 1217.6 912.4 1221.6 912.6 1225.7 912.9 1230.2 913.2 1234.9 913.5 1239.8 913.7 1245.1 914.0 1250.6 914.3 1256.4 914.6 1262.6 914.8 1269.1 915.1 1275.9 915.4 1283.1 915.6 1290.7 915.9 1298.7 916.2 1307.2 916.5 1316.1 916.7 1325.5 917.0 1335.4 917.3 1345.9 917.6 1357.0 917.8 1368.8 918.1 1381.4 918.4 1394.7 918.7 1409.0 918.9 1424.2 919.2 1440.5 919.5 1458.1 919.7 1477.2 920.0 1497.9 920.3 1520.5 920.6 1545.4 920.8 1573.1 921.1 1604.1 921.4 1618.0 921.7 1618.0 921.9 1618.0 922.2 1618.0 922.5 1618.0 922.8 1618.0 923.0 1618.0 923.3 1618.0 923.5 1618.0 923.7 1618.0 924.0 1618.0 924.2 1618.0 924.4 1618.0 924.6 1618.0 924.9 1618.0 925.1 1618.0 925.3 1618.0 925.5 1618.0 925.8 1618.0 926.0 1616.9 926.2 1596.2 926.4 1577.1 926.6 1559.5 926.9 1543.2 927.1 1528.0 927.3 1513.7 927.5 1500.4 927.8 1487.8 928.0 1476.0 928.2 1464.9 928.4 1454.4 928.7 1444.5 928.9 1435.1 929.1 1426.2 929.3 1417.7 929.6 1409.7 929.8 1402.1 930.0 1394.9 930.2 1388.1 930.4 1381.6 930.7 1375.4 930.9 1369.6 931.1 1364.1 931.3 1358.8 931.6 1353.9 931.8 1349.2 932.0 1344.7 932.2 1340.6 932.5 1336.6 932.7 1332.9 932.9 1329.5 933.1 1326.2 933.4 1323.2 933.6 1320.4 933.8 1317.8 934.0 1315.5 934.2 1313.3 934.5 1311.3 934.7 1309.5 934.9 1307.9 935.1 1306.5 935.4 1305.3 935.6 1304.3 935.8 1303.5 936.0 1302.8 936.3 1302.4 936.5 1302.1 936.7 1302.0 937.0 1302.1 937.2 1302.4 937.5 1302.8 937.8 1303.5 938.0 1304.3 938.3 1305.3 938.6 1306.5 938.8 1307.9 939.1 1309.5 939.4 1311.3 939.6 1313.3 939.9 1315.5 940.2 1317.8 940.4 1320.4 940.7 1323.2 941.0 1326.2 941.2 1329.5 941.5 1332.9 941.8 1336.6 942.0 1340.6 942.3 1344.7 942.6 1349.2 942.8 1353.9 943.1 1358.8 943.4 1364.1 943.6 1369.6 943.9 1375.4 944.2 1381.6 944.4 1388.1 944.7 1394.9 945.0 1402.1 945.2 1409.7 945.5 1417.7 945.8 1426.2 946.0 1435.1 946.3 1444.5 946.6 1454.4 946.8 1464.9 947.1 1476.0 947.4 1487.8 947.6 1500.4 947.9 1513.7 948.2 1528.0 948.4 1543.2 948.7 1559.5 949.0 1577.1 949.2 1596.2 949.5 1616.9 949.8 1618.0 950.0 1618.0 950.3 1618.0 950.6 1618.0 950.8 1618.0 951.1 1618.0 951.4 1618.0 951.6 1618.0 951.9 1618.0 952.2 1618.0 952.4 1618.0 952.7 1618.0 1011.5 1618.0 1011.8 1618.0 1012.0 1618.0 1012.3 1618.0 1012.5 1618.0 1012.8 1618.0 1013.1 1618.0 1013.3 1618.0 1013.6 1618.0 1013.9 1618.0 1014.1 1618.0 1014.4 1618.0 1014.6 1617.9 1014.9 1597.2 1015.2 1578.1 1015.4 1560.5 1015.7 1544.2 1015.9 1529.0 1016.2 1514.7 1016.5 1501.4 1016.7 1488.8 1017.0 1477.0 1017.3 1465.9 1017.5 1455.4 1017.8 1445.5 1018.0 1436.1 1018.3 1427.2 1018.6 1418.7 1018.8 1410.7 1019.1 1403.1 1019.4 1395.9 1019.6 1389.1 1019.9 1382.6 1020.1 1376.4 1020.4 1370.6 1020.7 1365.1 1020.9 1359.8 1021.2 1354.9 1021.4 1350.2 1021.7 1345.7 1022.0 1341.6 1022.2 1337.6 1022.5 1333.9 1022.8 1330.5 1023.0 1327.2 1023.3 1324.2 1023.5 1321.4 1023.8 1318.8 1024.1 1316.5 1024.3 1314.3 1024.6 1312.3 1024.8 1310.5 1025.1 1308.9 1025.4 1307.5 1025.6 1306.3 1025.9 1305.3 1026.2 1304.5 1026.4 1303.8 1026.7 1303.4 1026.9 1303.1 1027.2 1303.0 1027.4 1303.1 1027.7 1303.4 1027.9 1303.8 1028.1 1304.5 1028.4 1305.3 1028.6 1306.3 1028.8 1307.5 1029.0 1308.9 1029.3 1310.5 1029.5 1312.3 1029.7 1314.3 1030.0 1316.5 1030.2 1318.8 1030.4 1321.4 1030.7 1324.2 1030.9 1327.2 1031.1 1330.5 1031.3 1333.9 1031.6 1337.6 1031.8 1341.6 1032.0 1345.7 1032.3 1350.2 1032.5 1354.9 1032.7 1359.8 1033.0 1365.1 1033.2 1370.6 1033.4 1376.4 1033.6 1382.6 1033.9 1389.1 1034.1 1395.9 1034.3 1403.1 1034.6 1410.7 1034.8 1418.7 1035.0 1427.2 1035.2 1436.1 1035.5 1445.5 1035.7 1455.4 1035.9 1465.9 1036.2 1477.0 1036.4 1488.8 1036.6 1501.4 1036.9 1514.7 1037.1 1529.0 1037.3 1544.2 1037.5 1560.5 1037.8 1578.1 1038.0 1597.2 1038.2 1617.9 1038.5 1618.0 1038.7 1618.0 1038.9 1618.0 1039.2 1618.0 1039.4 1618.0 1039.6 1618.0 1039.8 1618.0 1040.1 1618.0 1040.3 1618.0 1040.5 1618.0 1040.8 1618.0 1041.0 1618.0 1041.2 1618.0 1041.4 1618.0 1041.7 1618.0 1041.9 1618.0 1042.1 1618.0 1042.3 1618.0 1042.5 1601.5 1042.7 1566.1 1043.0 1535.1 1043.2 1507.4 1043.4 1482.5 1043.6 1459.9 1043.8 1439.2 1044.0 1420.1 1044.2 1402.5 1044.5 1386.2 1044.7 1371.0 1044.9 1356.7 1045.1 1343.4 1045.3 1330.8 1045.5 1319.0 1045.8 1307.9 1046.0 1297.4 1046.2 1287.5 1046.4 1278.1 1046.6 1269.2 1046.8 1260.7 1047.1 1252.7 1047.3 1245.1 1047.5 1237.9 1047.7 1231.1 1047.9 1224.6 1048.2 1218.4 1048.4 1212.6 1048.6 1207.1 1048.8 1201.8 1049.0 1196.9 1049.2 1192.2 1049.5 1187.7 1049.7 1183.6 1049.9 1179.6 1050.1 1175.9 1050.3 1172.5 1050.5 1169.2 1050.8 1166.2 1051.0 1163.4 1051.2 1160.8 1051.4 1158.5 1051.6 1156.3 1051.8 1154.3 1052.0 1152.5 1052.3 1150.9 1052.5 1149.5 1052.7 1148.3 1052.9 1147.3 1053.1 1146.5 1053.3 1145.8 1053.6 1145.4 1053.8 1145.1 1054.0 1145.0 1054.3 1145.1 1054.5 1145.4 1054.8 1145.8 1055.1 1146.5 1055.4 1147.3 1055.7 1148.3 1055.9 1149.5 1056.2 1150.9 1056.5 1152.5 1056.8 1154.3 1057.0 1156.3 1057.3 1158.5 1057.6 1160.8 1057.8 1163.4 1058.1 1166.2 1058.4 1169.2 1058.7 1172.5 1059.0 1175.9 1059.2 1179.6 1059.5 1183.6 1059.8 1187.7 1060.0 1192.2 1060.3 1196.9 1060.6 1201.8 1060.9 1207.1 1061.2 1212.6 1061.4 1218.4 1061.7 1224.6 1062.0 1231.1 1062.2 1237.9 1062.5 1245.1 1062.8 1252.7 1063.1 1260.7 1063.3 1269.2 1063.6 1278.1 1063.9 1287.5 1064.2 1297.4 1064.5 1307.9 1064.7 1319.0 1065.0 1330.8 1065.3 1343.4 1065.5 1356.7 1065.8 1371.0 1066.1 1386.2 1066.4 1402.5 1066.7 1420.1 1066.9 1439.2 1067.2 1459.9 1067.5 1482.5 1067.8 1507.4 1068.0 1535.1 1068.3 1566.1 1068.6 1601.5 1068.8 1618.0 1069.1 1618.0 1069.4 1618.0 1069.7 1618.0 1070.0 1618.0 1070.2 1618.0 1070.5 1618.0 1071.0 1553.7 1071.5 1492.7 1072.0 1435.1 1072.5 1381.0 1073.0 1330.4 1073.5 1283.3 1074.0 1239.8 1074.5 1200.1 1075.0 1164.1 1075.5 1131.9 1076.0 1103.6 1076.5 1079.3 1077.0 1058.9 1077.5 1043.1 1078.0 1030.5 1078.5 1019.0 1079.0 1006.2 1079.5 991.9 1080.0 977.1 1080.5 962.1 1081.0 947.2 1081.5 932.0 1082.0 916.7 1082.5 903.4 1083.0 892.2 1083.5 882.2 1084.0 872.9 1084.5 864.1 1085.0 855.6 1085.5 847.3 1086.1 839.4 1086.6 831.9 1087.1 825.1 1087.6 818.9 1088.1 813.0 1088.6 807.4 1089.1 802.1 1089.6 797.0 1090.1 792.2 1090.6 787.8 1091.1 783.6 1091.6 779.7 1092.1 776.0 1092.6 772.5 1093.1 769.0 1093.6 765.8 1094.1 762.6 1094.6 759.7 1095.1 757.0 1095.6 754.4 1096.1 752.1 1096.6 750.0 1097.1 748.0 1097.6 746.0 1098.1 744.2 1098.6 742.5 1099.1 740.9 1099.6 739.4 1100.1 738.1 1100.6 737.0 1101.1 736.0 1102.8 736.5 1104.4 737.8 1106.1 739.9 1107.7 742.4 1109.4 745.2 1111.0 747.7 1112.7 749.8 1114.3 751.1 1116.0 751.6 1117.5 751.2 1119.0 750.2 1120.6 748.5 1122.1 746.4 1123.6 744.0 1125.1 741.4 1126.6 739.0 1128.1 736.9 1129.7 735.2 1131.2 734.2 1132.7 733.8 1134.2 734.1 1135.8 735.1 1137.3 736.6 1138.9 738.4 1140.4 740.3 1142.0 742.1 1143.5 743.6 1145.1 744.6 1146.6 744.9 1148.2 744.6 1149.8 743.7 1151.4 742.4 1153.0 740.7 1154.6 738.8 1156.2 736.9 1157.8 735.2 1159.4 733.9 1161.0 733.0 1162.6 732.7 1164.1 733.0 1165.7 733.9 1167.2 735.2 1168.8 736.8 1170.3 738.6 1171.9 740.2 1173.4 741.5 1175.0 742.4 1176.5 742.7 1178.1 742.5 1179.7 741.7 1181.3 740.6 1182.9 739.2 1184.5 737.7 1186.2 736.2 1187.8 734.8 1189.4 733.7 1191.0 732.9 1192.6 732.7 1194.1 733.0 1195.7 733.7 1197.2 734.8 1198.8 736.1 1200.3 737.6 1201.9 738.9 1203.4 740.0 1205.0 740.7 1206.5 741.0 1208.0 740.8 1209.6 740.2 1211.2 739.2 1212.7 738.0 1214.2 736.6 1215.8 735.2 1217.3 734.0 1218.9 733.0 1220.5 732.4 1222.0 732.2 1223.6 732.5 1225.2 733.2 1226.8 734.3 1228.4 735.6 1230.0 737.1 1231.6 738.4 1233.2 739.5 1234.8 740.2 1236.4 740.5 1237.9 740.3 1239.4 739.8 1240.9 739.0 1242.4 738.0 1243.9 736.9 1245.4 735.8 1246.9 734.8 1248.4 734.0 1249.9 733.5 1251.4 733.3 1253.0 733.4 1254.6 733.9 1256.2 734.6 1257.8 735.4 1259.5 736.3 1261.1 737.3 1262.7 738.1 1264.3 738.8 1265.9 739.3 1267.5 739.4 1269.1 739.2 1270.7 738.6 1272.3 737.6 1273.9 736.4 1275.5 735.2 1277.1 734.0 1278.7 733.0 1280.3 732.4 1281.9 732.2 1283.4 732.3 1284.9 732.7 1286.4 733.3 1287.9 734.0 1289.5 734.9 1291.0 735.7 1292.5 736.4 1294.0 737.0 1295.5 737.4 1297.0 737.5 1298.6 737.4 1300.2 737.0 1301.9 736.5 1303.5 735.8 1305.1 735.0 1306.7 734.4 1308.4 733.8 1310.0 733.4 1311.6 733.3 1313.2 733.4 1314.8 733.7 1316.4 734.1 1318.0 734.7 1319.7 735.2 1321.3 735.8 1322.9 736.2 1324.5 736.5 1326.1 736.6 1327.8 736.5 1329.4 736.1 1331.1 735.6 1332.7 735.0 1334.4 734.3 1336.0 733.7 1337.7 733.2 1339.3 732.8 1341.0 732.7 1342.6 732.8 1344.2 733.0 1345.8 733.4 1347.4 733.9 1349.1 734.3 1350.7 734.8 1352.3 735.2 1353.9 735.4 1355.5 735.5 1357.1 735.4 1358.7 735.1 1360.3 734.7 1361.9 734.1 1363.5 733.6 1365.1 733.0 1366.7 732.6 1368.3 732.3 1369.9 732.2 1371.5 732.3 1373.1 732.6 1374.7 733.0 1376.3 733.6 1377.9 734.1 1379.5 734.7 1381.1 735.1 1382.7 735.4 1384.3 735.5 1385.8 735.4 1387.3 735.2 1388.8 734.8 1390.3 734.4 1391.8 733.9 1393.3 733.3 1394.8 732.9 1396.3 732.5 1397.8 732.3 1399.3 732.2 1401.0 732.3 1402.6 732.6 1404.3 733.0 1405.9 733.5 1407.6 734.1 1409.3 734.5 1410.9 734.8 1412.6 734.9 1414.2 734.8 1415.8 734.6 1417.4 734.2 1419.0 733.8 1420.6 733.3 1422.2 732.9 1423.8 732.5 1425.4 732.3 1427.0 732.2 1428.5 732.3 1430.1 732.6 1431.6 733.0 1433.2 733.6 1434.7 734.1 1436.3 734.7 1437.8 735.1 1439.4 735.4 1440.9 735.5 1442.4 735.4 1444.0 735.0 1445.5 734.5 1447.0 733.9 1448.6 733.2 1450.1 732.6 1451.6 732.1 1453.2 731.7 1454.7 731.6 1456.3 731.8 1457.9 732.4 1459.5 733.3 1461.1 734.4 1462.8 735.5 1464.4 736.6 1466.0 737.5 1467.6 738.1 1469.2 738.3 1470.9 738.0 1472.5 737.0 1474.2 735.6 1475.8 733.9 1477.5 732.1 1479.2 730.7 1480.8 729.7 1482.5 729.4 1483.0 729.5 1483.5 729.8 1484.0 730.3 1484.5 730.9 1485.0 731.7 1485.5 732.7 1486.0 733.7 1486.5 734.8 1487.0 736.1 1487.5 737.3 1488.0 738.7 1488.5 740.0 1489.0 741.6 1489.5 743.7 1490.0 746.1 1490.5 748.8 1491.0 751.6 1491.5 754.4 1492.0 757.0 1492.5 759.5 1493.0 762.0 1493.5 764.8 1494.0 768.0 1494.5 772.0 1495.0 777.9 1495.5 786.1 1496.0 796.0 1496.5 806.8 1497.0 817.8 1497.5 828.1 1498.0 837.0 1498.5 844.7 1499.0 851.8 1499.5 858.5 1500.0 865.0 1500.5 871.2 1501.0 877.5 1501.5 883.9 1502.0 890.6 1502.5 897.6 1503.0 905.2 1503.5 913.4 1504.0 922.1 1504.5 931.4 1505.0 941.1 1505.5 951.3 1506.0 961.9 1506.5 972.8 1507.0 984.1 1507.5 995.7 1508.0 1008.0 1508.5 1021.1 1509.0 1034.6 1509.5 1048.5 1510.0 1062.4 1510.5 1076.4 1511.0 1090.7 1511.5 1105.2 1512.0 1120.0 1512.5 1135.0 1514.0 1130.1 1515.5 1116.1 1517.1 1094.5 1518.6 1068.1 1520.1 1040.1 1521.6 1013.7 1523.2 992.1 1524.7 978.1 1526.2 973.2 1527.7 976.2 1529.3 985.0 1530.8 998.6 1532.4 1015.8 1533.9 1034.8 1535.4 1053.8 1537.0 1071.0 1538.5 1084.6 1540.1 1093.4 1541.6 1096.4 1543.1 1094.9 1544.6 1090.7 1546.2 1084.0 1547.7 1075.4 1549.2 1065.6 1550.7 1055.3 1552.2 1045.5 1553.7 1036.9 1555.3 1030.2 1556.8 1026.0 1558.3 1024.5 1560.0 1030.0 1561.6 1045.3 1563.3 1067.5 1564.9 1092.0 1566.6 1114.2 1568.2 1129.5 1569.9 1135.0 1571.4 1132.8 1573.0 1126.4 1574.5 1116.5 1576.1 1103.9 1577.6 1090.0 1579.1 1076.1 1580.7 1063.5 1582.2 1053.6 1583.8 1047.2 1585.3 1045.0 1586.9 1046.6 1588.4 1051.3 1590.0 1058.5 1591.6 1067.3 1593.1 1076.7 1594.7 1085.5 1596.3 1092.7 1597.8 1097.4 1599.4 1099.0 1600.9 1098.1 1602.5 1095.6 1604.0 1091.6 1605.6 1086.6 1607.1 1081.0 1608.6 1075.4 1610.2 1070.4 1611.7 1066.4 1613.3 1063.9 1614.8 1063.0 1616.3 1064.4 1617.8 1068.4 1619.4 1074.7 1620.9 1082.7 1622.4 1091.5 1623.9 1100.3 1625.4 1108.3 1627.0 1114.6 1628.5 1118.6 1630.0 1120.0 1631.5 1118.7 1633.1 1114.8 1634.6 1108.7 1636.2 1101.1 1637.7 1092.6 1639.2 1084.1 1640.8 1076.5 1642.3 1070.4 1643.9 1066.5 1645.4 1065.2 1647.0 1066.3 1648.6 1069.4 1650.2 1074.2 1651.8 1080.0 1653.5 1086.2 1655.1 1092.0 1656.7 1096.8 1658.3 1099.9 1659.9 1101.0 1661.5 1100.3 1663.1 1098.4 1664.7 1095.5 1666.3 1091.9 1667.9 1088.1 1669.5 1084.5 1671.1 1081.6 1672.7 1079.7 1674.3 1079.0 1675.8 1080.0 1677.3 1083.1 1678.8 1087.8 1680.3 1093.8 1681.8 1100.4 1683.4 1107.0 1684.9 1113.0 1686.4 1117.7 1687.9 1120.8 1689.4 1121.8 1690.9 1120.8 1692.4 1117.8 1694.0 1113.0 1695.5 1107.0 1697.0 1100.0 1698.5 1092.8 1700.0 1085.8 1701.5 1079.8 1703.1 1075.0 1704.6 1072.0 1706.1 1071.0 1707.7 1071.6 1709.3 1073.4 1710.9 1076.2 1712.5 1079.6 1714.2 1083.2 1715.8 1086.6 1717.4 1089.4 1719.0 1091.2 1720.6 1091.8 1722.1 1091.4 1723.6 1090.4 1725.1 1088.9 1726.7 1087.2 1728.2 1085.4 1729.7 1083.9 1731.2 1082.9 1732.7 1082.5 1734.3 1083.5 1736.0 1086.3 1737.6 1090.8 1739.2 1096.4 1740.8 1102.5 1742.5 1108.7 1744.1 1114.3 1745.7 1118.8 1747.4 1121.6 1749.0 1122.6 1750.6 1121.7 1752.3 1119.1 1753.9 1114.9 1755.5 1109.6 1757.1 1103.5 1758.8 1097.1 1760.4 1091.0 1762.0 1085.7 1763.6 1081.5 1765.3 1078.9 1766.9 1078.0 1768.4 1078.4 1769.9 1079.7 1771.5 1081.5 1773.0 1083.9 1774.5 1086.3 1776.0 1088.7 1777.6 1090.5 1779.1 1091.8 1780.6 1092.2 1782.2 1091.9 1783.7 1091.1 1785.3 1090.0 1786.9 1088.7 1788.5 1087.6 1790.0 1086.8 1791.6 1086.5 1793.2 1087.1 1794.8 1088.7 1796.5 1091.2 1798.1 1094.4 1799.7 1098.0 1801.3 1101.6 1802.9 1104.8 1804.6 1107.3 1806.2 1108.9 1807.8 1109.5 1809.4 1108.9 1811.0 1107.2 1812.7 1104.6 1814.3 1101.2 1815.9 1097.3 1817.5 1093.2 1819.1 1089.3 1820.7 1085.9 1822.4 1083.3 1824.0 1081.6 1825.6 1081.0 1827.2 1081.3 1828.9 1082.2 1830.5 1083.6 1832.1 1085.3 1833.8 1087.1 1835.4 1088.8 1837.0 1090.2 1838.7 1091.1 1840.3 1091.4 1841.9 1091.3 1843.4 1090.9 1845.0 1090.5 1846.5 1089.9 1848.1 1089.5 1849.6 1089.1 1851.2 1089.0 1852.8 1089.5 1854.4 1091.0 1856.0 1093.3 1857.6 1096.3 1859.2 1099.5 1860.9 1102.7 1862.5 1105.7 1864.1 1108.0 1865.7 1109.5 1867.3 1110.0 1868.9 1109.3 1870.5 1107.4 1872.1 1104.4 1873.7 1100.4 1875.3 1095.7 1876.9 1090.8 1878.5 1085.8 1880.1 1081.1 1881.7 1077.1 1883.3 1074.1 1884.9 1072.2 1886.5 1071.5 1887.0 1071.7 1887.5 1071.8 1888.0 1072.0 1888.5 1072.2 1889.0 1072.4 1889.5 1072.7 1890.0 1072.9 1890.5 1073.1 1891.0 1073.4 1891.5 1073.6 1892.0 1073.9 1892.5 1074.1 1893.0 1074.4 1893.5 1074.7 1894.0 1075.0 1894.5 1075.3 1895.0 1075.6 1895.5 1075.9 1896.0 1076.3 1896.5 1076.6 1897.0 1076.9 1897.5 1077.3 1898.0 1077.6 1898.5 1078.0 1899.0 1078.3 1899.5 1078.7 1900.0 1079.0 1900.5 1079.4 1901.0 1079.8 1901.5 1080.1 1902.0 1080.5 1902.5 1080.9 1903.0 1081.3 1903.5 1081.7 1904.0 1082.1 1904.5 1082.5 1905.0 1082.9 1905.5 1083.3 1906.0 1083.8 1906.5 1084.2 1907.0 1084.7 1907.5 1085.2 1908.0 1085.7 1908.5 1086.2 1909.0 1086.7 1909.5 1087.2 1910.0 1087.8 1910.5 1088.3 1911.0 1088.9 1911.5 1089.5 1912.0 1090.1 1912.5 1090.7 1913.0 1091.4 1913.5 1092.0 1914.0 1092.7 1914.5 1093.4 1915.0 1094.1 1915.5 1094.8 1916.0 1095.6 1916.5 1096.3 1917.0 1097.1 1917.5 1098.0 1918.0 1098.8 1918.5 1099.7 1919.0 1100.6 1919.5 1101.5 1920.0 1102.4 1920.5 1103.3 1921.0 1104.3 1921.5 1105.3 1922.0 1106.3 1922.5 1107.3 1923.0 1108.3 1923.5 1109.4 1924.0 1110.4 1924.5 1111.5 1925.0 1112.6 1926.6 1112.0 1928.1 1110.4 1929.7 1108.1 1931.3 1105.5 1932.9 1103.2 1934.4 1101.6 1936.0 1101.0" fill="none" stroke="#fa5208" stroke-width="11.0" stroke-linejoin="round" />
<path d="M208.3 1017.5 L214.4 978.9" fill="none" stroke="#ffb302" stroke-width="11.0"/>
<path d="M228.0 1000.0 L231.6 1039.7" fill="none" stroke="#ffb302" stroke-width="11.0"/>
<path d="M233.9 1089.2 L235.6 1128.3" fill="none" stroke="#ffb302" stroke-width="11.0"/>
<path d="M237.0 1168.7 L237.0 1185.3" fill="none" stroke="#ffb302" stroke-width="11.0"/>
<path d="M238.0 1188.3 L238.0 1227.7" fill="none" stroke="#ffb302" stroke-width="11.0"/>
<path d="M240.0 1268.0 L240.0 1308.0" fill="none" stroke="#ffb302" stroke-width="11.0"/>
<path d="M241.0 1323.3 L241.0 1362.7" fill="none" stroke="#ffb302" stroke-width="11.0"/>
<path d="M251.0 1368.0 L251.0 1328.6" fill="none" stroke="#ffb302" stroke-width="11.0"/>
<path d="M253.0 1292.3 L253.0 1253.0" fill="none" stroke="#ffb302" stroke-width="11.0"/>
<path d="M254.2 1211.8 L258.8 1156.6" fill="none" stroke="#ffb302" stroke-width="11.0"/>
<path d="M260.4 1116.5 L264.1 1076.6" fill="none" stroke="#ffb302" stroke-width="11.0"/>
<path d="M267.1 1062.6 L269.3 1048.6" fill="none" stroke="#ffb302" stroke-width="11.0"/>
<path d="M287.0 1036.0 L296.6 1098.8" fill="none" stroke="#ffb302" stroke-width="11.0"/>
<path d="M299.5 1139.0 C300.2 1141.8 302.7 1151.4 304.0 1156.0 C305.3 1160.6 306.3 1165.5 307.5 1166.5 C308.7 1167.5 310.4 1162.8 311.0 1162.0" fill="none" stroke="#ffb302" stroke-width="11.0"/>
<path d="M313.6 1115.8 L317.3 1075.2" fill="none" stroke="#ffb302" stroke-width="11.0"/>
<path d="M320.5 1061.0 L327.5 1057.5" fill="none" stroke="#ffb302" stroke-width="11.0"/>
<path d="M331.2 1016.7 C331.7 1014.8 333.0 1008.0 334.0 1005.0 C335.0 1002.0 336.1 999.2 337.3 999.0 C338.5 998.8 339.6 999.9 341.0 1004.0 C342.4 1008.1 344.8 1020.2 345.5 1023.4" fill="none" stroke="#ffb302" stroke-width="11.0"/>
<path d="M350.5 1063.0 L350.5 1079.4" fill="none" stroke="#ffb302" stroke-width="11.0"/>
<path d="M354.0 1120.3 L354.0 1158.8" fill="none" stroke="#ffb302" stroke-width="11.0"/>
<path d="M356.5 1187.6 L356.5 1227.0" fill="none" stroke="#ffb302" stroke-width="11.0"/>
<path d="M358.5 1268.0 L358.5 1308.0" fill="none" stroke="#ffb302" stroke-width="11.0"/>
<path d="M359.0 1319.6 L359.0 1358.9" fill="none" stroke="#ffb302" stroke-width="11.0"/>
<path d="M368.0 1368.0 L368.0 1328.6" fill="none" stroke="#ffb302" stroke-width="11.0"/>
<path d="M370.0 1287.8 L370.0 1248.4" fill="none" stroke="#ffb302" stroke-width="11.0"/>
<path d="M373.5 1207.0 L373.5 1185.0" fill="none" stroke="#ffb302" stroke-width="11.0"/>
<path d="M374.0 1155.0 L374.0 1115.7" fill="none" stroke="#ffb302" stroke-width="11.0"/>
<path d="M378.0 1074.8 L378.0 1063.0" fill="none" stroke="#ffb302" stroke-width="11.0"/>
<path d="M383.0 1025.5 C383.8 1021.8 386.4 1009.4 388.0 1003.0 C389.6 996.6 391.1 990.3 392.3 987.0 C393.5 983.7 394.6 983.7 395.0 983.0" fill="none" stroke="#ffb302" stroke-width="11.0"/>
<path d="M406.2 1026.0 L408.7 1062.5" fill="none" stroke="#ffb302" stroke-width="11.0"/>
<path d="M411.3 1098.0 L413.0 1138.0" fill="none" stroke="#ffb302" stroke-width="11.0"/>
<path d="M415.0 1177.9 L415.0 1218.6" fill="none" stroke="#ffb302" stroke-width="11.0"/>
<path d="M417.0 1259.4 L417.0 1300.0" fill="none" stroke="#ffb302" stroke-width="11.0"/>
<path d="M418.0 1309.0 L418.0 1319.0" fill="none" stroke="#ffb302" stroke-width="11.0"/>
<path d="M418.0 1358.0 L418.0 1368.0" fill="none" stroke="#ffb302" stroke-width="11.0"/>
<path d="M427.6 1368.0 L427.6 1328.2" fill="none" stroke="#ffb302" stroke-width="11.0"/>
<path d="M429.0 1288.4 L429.0 1247.6" fill="none" stroke="#ffb302" stroke-width="11.0"/>
<path d="M431.3 1207.8 L433.0 1148.9" fill="none" stroke="#ffb302" stroke-width="11.0"/>
<path d="M436.5 1109.7 L437.0 1068.6" fill="none" stroke="#ffb302" stroke-width="11.0"/>
<path d="M440.0 1057.0 C441.2 1054.2 444.8 1045.0 447.0 1040.0 C449.2 1035.0 451.2 1030.5 453.0 1027.0 C454.8 1023.5 457.2 1020.3 458.0 1019.0" fill="none" stroke="#ffb302" stroke-width="11.0"/>
<path d="M466.0 1051.5 L474.0 1062.0" fill="none" stroke="#ffb302" stroke-width="11.0"/>
<path d="M470.0 1071.2 L476.0 1109.6" fill="none" stroke="#ffb302" stroke-width="11.0"/>
<path d="M477.5 1138.0 C477.9 1140.8 479.2 1150.5 480.0 1155.0 C480.8 1159.5 481.3 1164.5 482.5 1165.0 C483.7 1165.5 486.2 1159.2 487.0 1158.0" fill="none" stroke="#ffb302" stroke-width="11.0"/>
<path d="M489.6 1116.2 L493.5 1076.5" fill="none" stroke="#ffb302" stroke-width="11.0"/>
<path d="M497.8 1057.4 C499.5 1053.5 504.9 1040.1 508.0 1033.7 C511.1 1027.3 514.9 1021.7 516.3 1019.3" fill="none" stroke="#ffb302" stroke-width="11.0"/>
<path d="M525.0 1045.5 C525.6 1050.4 527.3 1065.0 528.5 1075.0 C529.7 1085.0 531.4 1100.6 532.0 1105.7" fill="none" stroke="#ffb302" stroke-width="11.0"/>
<path d="M532.7 1145.0 L532.7 1184.8" fill="none" stroke="#ffb302" stroke-width="11.0"/>
<path d="M534.3 1203.8 L534.3 1245.0" fill="none" stroke="#ffb302" stroke-width="11.0"/>
<path d="M536.0 1285.0 L536.0 1308.2" fill="none" stroke="#ffb302" stroke-width="11.0"/>
<path d="M536.5 1322.3 L536.5 1361.6" fill="none" stroke="#ffb302" stroke-width="11.0"/>
<path d="M544.0 1368.7 L544.0 1328.3" fill="none" stroke="#ffb302" stroke-width="11.0"/>
<path d="M545.6 1288.0 L545.6 1248.0" fill="none" stroke="#ffb302" stroke-width="11.0"/>
<path d="M547.0 1207.4 L547.0 1185.3" fill="none" stroke="#ffb302" stroke-width="11.0"/>
<path d="M549.0 1145.2 L549.0 1106.2" fill="none" stroke="#ffb302" stroke-width="11.0"/>
<path d="M548.0 1063.5 L557.0 1065.0" fill="none" stroke="#ffb302" stroke-width="11.0"/>
<path d="M554.2 1042.0 L559.1 1002.4" fill="none" stroke="#ffb302" stroke-width="11.0"/>
<path d="M583.2 985.4 L587.0 1024.7" fill="none" stroke="#ffb302" stroke-width="11.0"/>
<path d="M589.7 1062.0 L589.7 1072.7" fill="none" stroke="#ffb302" stroke-width="11.0"/>
<path d="M592.7 1113.6 L592.7 1151.5" fill="none" stroke="#ffb302" stroke-width="11.0"/>
<path d="M594.2 1184.8 L594.2 1212.0" fill="none" stroke="#ffb302" stroke-width="11.0"/>
<path d="M595.8 1251.5 L595.8 1291.0" fill="none" stroke="#ffb302" stroke-width="11.0"/>
<path d="M598.0 1342.4 L598.0 1366.7" fill="none" stroke="#ffb302" stroke-width="11.0"/>
<path d="M602.0 1368.0 L602.0 1328.0" fill="none" stroke="#ffb302" stroke-width="11.0"/>
<path d="M603.5 1278.8 L603.5 1239.4" fill="none" stroke="#ffb302" stroke-width="11.0"/>
<path d="M605.0 1198.5 L605.0 1166.7" fill="none" stroke="#ffb302" stroke-width="11.0"/>
<path d="M606.3 1125.8 L606.3 1087.9" fill="none" stroke="#ffb302" stroke-width="11.0"/>
<path d="M608.0 1062.1 L608.0 1045.5" fill="none" stroke="#ffb302" stroke-width="11.0"/>
<path d="M611.4 1005.5 C611.8 1002.1 613.1 991.6 614.0 985.0 C614.9 978.4 616.5 969.2 617.0 966.0" fill="none" stroke="#ffb302" stroke-width="11.0"/>
<path d="M622.5 1008.0 C623.0 1010.3 624.6 1018.4 625.5 1022.0 C626.4 1025.6 627.1 1029.5 627.9 1029.5 C628.7 1029.5 629.6 1025.6 630.5 1022.0 C631.4 1018.4 632.6 1010.3 633.0 1008.0" fill="none" stroke="#ffb302" stroke-width="11.0"/>
<path d="M633.2 939.0 L632.7 966.0" fill="none" stroke="#ffb302" stroke-width="11.0"/>
<path d="M638.1 877.3 L635.8 925.9" fill="none" stroke="#ffb302" stroke-width="11.0"/>
<path d="M642.0 816.4 L640.5 845.7" fill="none" stroke="#ffb302" stroke-width="11.0"/>
<path d="M645.1 764.7 L642.8 804.8" fill="none" stroke="#ffb302" stroke-width="11.0"/>
<path d="M666.4 741.1 C668.4 738.9 674.7 731.4 678.2 728.0 C681.7 724.6 684.4 721.2 687.4 720.8 C690.4 720.4 695.0 724.6 696.5 725.4" fill="none" stroke="#ffb302" stroke-width="11.0"/>
<path d="M734.6 722.1 C736.6 721.8 742.5 719.8 746.4 720.1 C750.3 720.4 753.8 722.0 758.2 724.1 C762.6 726.2 770.2 731.2 772.6 732.6" fill="none" stroke="#ffb302" stroke-width="11.0"/>
<path d="M797.5 721.4 C798.8 721.1 801.9 719.0 805.4 719.5 C808.9 720.0 813.9 722.0 818.5 724.1 C823.1 726.2 830.5 730.6 832.9 731.9" fill="none" stroke="#ffb302" stroke-width="11.0"/>
<path d="M874.8 737.8 C876.7 736.6 882.0 730.2 886.3 730.5 C890.6 730.8 896.2 739.5 900.8 739.6 C905.4 739.7 911.9 732.5 914.1 731.1" fill="none" stroke="#ffb302" stroke-width="11.0"/>
<path d="M951.7 734.8 C953.5 735.8 959.1 740.6 962.6 740.8 C966.1 741.0 971.1 736.8 972.8 736.0" fill="none" stroke="#ffb302" stroke-width="11.0"/>
<path d="M1007.3 730.0 C1008.9 732.4 1014.2 740.3 1017.0 744.5 C1019.8 748.7 1021.3 755.5 1024.3 755.4 C1027.3 755.3 1033.4 745.8 1035.2 743.9" fill="none" stroke="#ffb302" stroke-width="11.0"/>
<path d="M1046.6 761.0 L1051.3 801.6" fill="none" stroke="#ffb302" stroke-width="11.0"/>
<path d="M1052.5 822.0 L1055.4 863.2" fill="none" stroke="#ffb302" stroke-width="11.0"/>
<path d="M1057.5 902.0 L1059.5 938.0" fill="none" stroke="#ffb302" stroke-width="11.0"/>
<path d="M1060.4 970.0 L1061.8 1009.0" fill="none" stroke="#ffb302" stroke-width="11.0"/>
<path d="M1063.0 1050.0 L1063.6 1077.0" fill="none" stroke="#ffb302" stroke-width="11.0"/>
<path d="M1064.4 1118.2 L1064.4 1156.4" fill="none" stroke="#ffb302" stroke-width="11.0"/>
<path d="M1065.4 1185.4 L1065.4 1197.8" fill="none" stroke="#ffb302" stroke-width="11.0"/>
<path d="M1066.0 1238.0 L1066.5 1278.4" fill="none" stroke="#ffb302" stroke-width="11.0"/>
<path d="M1067.5 1321.8 L1067.5 1368.0" fill="none" stroke="#ffb302" stroke-width="11.0"/>
<path d="M1502.5 978.0 C1503.2 981.0 1505.2 989.1 1506.5 996.0 C1507.8 1002.9 1509.6 1015.2 1510.2 1019.1" fill="none" stroke="#ffb302" stroke-width="11.0"/>
<path d="M1519.9 1010.2 C1520.8 1006.8 1523.5 995.3 1525.0 990.0 C1526.5 984.7 1526.9 979.3 1528.7 978.5 C1530.5 977.7 1534.8 984.1 1536.0 985.2" fill="none" stroke="#ffb302" stroke-width="11.0"/>
<path d="M1538.4 1031.0 C1539.5 1031.8 1542.3 1040.2 1544.9 1035.5 C1547.5 1030.8 1552.3 1008.4 1553.8 1003.0" fill="none" stroke="#ffb302" stroke-width="11.0"/>
<path d="M1564.2 1014.3 C1565.4 1017.7 1568.3 1033.7 1571.5 1034.5 C1574.7 1035.3 1581.6 1021.7 1583.6 1019.1" fill="none" stroke="#ffb302" stroke-width="11.0"/>
<path d="M1594.9 1028.8 C1596.2 1029.8 1599.4 1038.4 1603.0 1034.5 C1606.6 1030.6 1614.4 1010.2 1616.7 1005.4" fill="none" stroke="#ffb302" stroke-width="11.0"/>
<path d="M1633.7 1032.0 C1635.3 1028.5 1640.9 1015.4 1643.3 1011.0 C1645.7 1006.6 1646.0 1005.0 1648.3 1005.5 C1650.6 1006.0 1655.5 1012.8 1657.0 1014.3" fill="none" stroke="#ffb302" stroke-width="11.0"/>
<path d="M1669.7 1014.3 C1671.2 1013.3 1675.7 1006.8 1679.0 1008.5 C1682.3 1010.2 1686.7 1020.4 1689.4 1024.7 C1692.1 1029.0 1693.2 1033.1 1695.0 1034.5 C1696.8 1035.9 1699.2 1033.2 1700.0 1033.0" fill="none" stroke="#ffb302" stroke-width="11.0"/>
<path d="M1721.0 1035.0 C1722.7 1032.5 1728.6 1025.5 1731.0 1020.1 C1733.4 1014.7 1734.8 1005.7 1735.6 1002.8" fill="none" stroke="#ffb302" stroke-width="11.0"/>
<path d="M1748.9 985.4 C1750.5 987.1 1754.8 991.4 1758.7 995.8 C1762.7 1000.2 1769.2 1008.1 1772.6 1012.0 C1776.0 1015.9 1777.9 1017.8 1779.0 1019.0" fill="none" stroke="#ffb302" stroke-width="11.0"/>
<path d="M1792.6 1006.6 C1793.5 1004.2 1796.0 995.6 1798.0 992.0 C1800.0 988.4 1802.3 985.3 1804.6 985.0 C1806.9 984.7 1809.8 987.6 1812.0 990.0 C1814.2 992.4 1817.0 998.0 1818.0 999.6" fill="none" stroke="#ffb302" stroke-width="11.0"/>
<path d="M1847.0 1029.2 L1860.4 991.8" fill="none" stroke="#ffb302" stroke-width="11.0"/>
<path d="M1881.6 1022.2 C1883.2 1023.1 1888.6 1024.7 1891.5 1027.8 C1894.4 1030.9 1897.3 1035.3 1899.2 1040.7 C1901.1 1046.1 1902.4 1056.7 1903.1 1059.9" fill="none" stroke="#ffb302" stroke-width="11.0"/>
<path d="M1914.1 1149.4 C1915.0 1152.6 1917.0 1167.1 1919.8 1168.5 C1922.6 1169.9 1929.2 1159.7 1931.1 1157.9" fill="none" stroke="#ffb302" stroke-width="11.0"/>
<path d="M1074.3 1308.4 L1074.3 1281.5" fill="none" stroke="#ffb302" stroke-width="11.0"/>
<path d="M1076.4 1241.2 L1075.8 1200.9" fill="none" stroke="#ffb302" stroke-width="11.0"/>
<path d="M1076.8 1182.3 C1077.5 1180.2 1079.8 1171.3 1081.0 1169.9 C1082.2 1168.5 1083.5 1173.3 1084.0 1174.0" fill="none" stroke="#ffb302" stroke-width="11.0"/>
<path d="M1087.1 1185.4 L1087.1 1222.6" fill="none" stroke="#ffb302" stroke-width="11.0"/>
<path d="M1090.7 1264.0 L1090.7 1303.2" fill="none" stroke="#ffb302" stroke-width="11.0"/>
<path d="M1091.3 1309.5 L1091.3 1312.5" fill="none" stroke="#ffb302" stroke-width="11.0"/>
<path d="M1093.3 1353.8 L1093.3 1368.0" fill="none" stroke="#ffb302" stroke-width="11.0"/>
<path d="M1108.4 1368.0 L1108.4 1328.1" fill="none" stroke="#ffb302" stroke-width="11.0"/>
<path d="M1118.8 1339.0 L1118.8 1368.0" fill="none" stroke="#ffb302" stroke-width="11.0"/>
<path d="M1137.5 1368.0 L1137.5 1328.1" fill="none" stroke="#ffb302" stroke-width="11.0"/>
<path d="M1140.3 1279.2 C1141.1 1276.9 1143.5 1263.4 1144.9 1265.2 C1146.3 1267.0 1148.2 1285.9 1148.8 1290.0" fill="none" stroke="#ffb302" stroke-width="11.0"/>
<path d="M1149.9 1308.7 L1150.4 1323.4" fill="none" stroke="#ffb302" stroke-width="11.0"/>
<path d="M1153.5 1364.0 L1153.5 1368.0" fill="none" stroke="#ffb302" stroke-width="11.0"/>
<path d="M1163.9 1368.0 L1163.9 1328.1" fill="none" stroke="#ffb302" stroke-width="11.0"/>
<path d="M1164.7 1308.7 L1164.7 1296.3" fill="none" stroke="#ffb302" stroke-width="11.0"/>
<path d="M1166.7 1255.9 L1167.5 1215.5" fill="none" stroke="#ffb302" stroke-width="11.0"/>
<path d="M1165.1 1184.4 C1165.8 1181.7 1168.0 1171.5 1169.5 1168.0 C1171.0 1164.5 1172.8 1162.8 1174.4 1163.5 C1176.0 1164.2 1177.8 1164.6 1179.0 1172.0 C1180.2 1179.4 1180.9 1201.8 1181.3 1207.7" fill="none" stroke="#ffb302" stroke-width="11.0"/>
<path d="M1182.2 1250.0 L1182.6 1289.4" fill="none" stroke="#ffb302" stroke-width="11.0"/>
<path d="M1183.0 1310.5 L1183.0 1315.0" fill="none" stroke="#ffb302" stroke-width="11.0"/>
<path d="M1182.0 1355.8 L1182.0 1368.0" fill="none" stroke="#ffb302" stroke-width="11.0"/>
<path d="M1191.3 1368.0 L1191.3 1327.9" fill="none" stroke="#ffb302" stroke-width="11.0"/>
<path d="M1192.2 1287.7 L1192.2 1248.4" fill="none" stroke="#ffb302" stroke-width="11.0"/>
<path d="M1193.3 1207.4 L1193.3 1185.6" fill="none" stroke="#ffb302" stroke-width="11.0"/>
<path d="M1193.9 1178.6 L1194.6 1139.3" fill="none" stroke="#ffb302" stroke-width="11.0"/>
<path d="M1196.1 1099.0 L1197.5 1063.0" fill="none" stroke="#ffb302" stroke-width="11.0"/>
<path d="M1199.0 1051.3 L1200.5 1012.1" fill="none" stroke="#ffb302" stroke-width="11.0"/>
<path d="M1209.5 1038.6 L1209.5 1063.0" fill="none" stroke="#ffb302" stroke-width="11.0"/>
<path d="M1210.6 1072.5 L1211.5 1112.0" fill="none" stroke="#ffb302" stroke-width="11.0"/>
<path d="M1211.0 1152.4 L1211.0 1192.5" fill="none" stroke="#ffb302" stroke-width="11.0"/>
<path d="M1213.9 1233.6 L1213.9 1273.7" fill="none" stroke="#ffb302" stroke-width="11.0"/>
<path d="M1214.8 1309.5 L1214.8 1348.8" fill="none" stroke="#ffb302" stroke-width="11.0"/>
<path d="M1219.0 1367.0 L1219.0 1327.9" fill="none" stroke="#ffb302" stroke-width="11.0"/>
<path d="M1220.1 1287.7 L1220.1 1248.4" fill="none" stroke="#ffb302" stroke-width="11.0"/>
<path d="M1219.3 1207.4 L1219.3 1147.1" fill="none" stroke="#ffb302" stroke-width="11.0"/>
<path d="M1221.7 1107.0 L1222.2 1067.8" fill="none" stroke="#ffb302" stroke-width="11.0"/>
<path d="M1223.3 1059.8 L1223.3 1020.6" fill="none" stroke="#ffb302" stroke-width="11.0"/>
<path d="M1224.8 979.2 L1224.8 940.0" fill="none" stroke="#ffb302" stroke-width="11.0"/>
<path d="M1226.5 939.0 L1226.5 901.9" fill="none" stroke="#ffb302" stroke-width="11.0"/>
<path d="M1229.6 860.5 C1230.1 855.2 1231.4 833.6 1232.8 828.7 C1234.2 823.8 1237.2 830.5 1238.1 830.9" fill="none" stroke="#ffb302" stroke-width="11.0"/>
<path d="M1240.2 874.3 L1240.8 913.5" fill="none" stroke="#ffb302" stroke-width="11.0"/>
<path d="M1242.8 978.2 L1242.8 1018.4" fill="none" stroke="#ffb302" stroke-width="11.0"/>
<path d="M1243.6 1058.7 L1243.6 1075.7" fill="none" stroke="#ffb302" stroke-width="11.0"/>
<path d="M1244.7 1116.6 L1244.7 1155.9" fill="none" stroke="#ffb302" stroke-width="11.0"/>
<path d="M1245.5 1229.2 L1245.5 1268.5" fill="none" stroke="#ffb302" stroke-width="11.0"/>
<path d="M1246.4 1327.9 L1246.4 1367.0" fill="none" stroke="#ffb302" stroke-width="11.0"/>
<path d="M1247.9 1287.7 L1247.9 1248.4" fill="none" stroke="#ffb302" stroke-width="11.0"/>
<path d="M1247.9 1207.4 L1247.9 1175.1" fill="none" stroke="#ffb302" stroke-width="11.0"/>
<path d="M1248.7 1134.0 L1248.7 1095.8" fill="none" stroke="#ffb302" stroke-width="11.0"/>
<path d="M1249.1 1063.0 L1249.1 1038.6" fill="none" stroke="#ffb302" stroke-width="11.0"/>
<path d="M1250.0 997.3 L1250.0 958.0" fill="none" stroke="#ffb302" stroke-width="11.0"/>
<path d="M1250.0 939.0 L1250.0 922.0" fill="none" stroke="#ffb302" stroke-width="11.0"/>
<path d="M1251.3 881.7 L1251.3 842.5" fill="none" stroke="#ffb302" stroke-width="11.0"/>
<path d="M1251.9 816.0 L1251.9 780.0" fill="none" stroke="#ffb302" stroke-width="11.0"/>
<path d="M1253.7 738.7 L1254.2 698.9" fill="none" stroke="#ffb302" stroke-width="11.0"/>
<path d="M1256.0 662.9 L1256.5 623.1" fill="none" stroke="#ffb302" stroke-width="11.0"/>
<path d="M1258.5 583.3 L1259.8 534.4" fill="none" stroke="#ffb302" stroke-width="11.0"/>
<path d="M1262.4 495.9 L1265.0 454.8" fill="none" stroke="#ffb302" stroke-width="11.0"/>
<path d="M1283.0 397.0 L1287.3 436.8" fill="none" stroke="#ffb302" stroke-width="11.0"/>
<path d="M1291.4 493.3 L1292.5 531.9" fill="none" stroke="#ffb302" stroke-width="11.0"/>
<path d="M1296.3 606.4 L1297.1 646.2" fill="none" stroke="#ffb302" stroke-width="11.0"/>
<path d="M1298.4 686.0 L1298.6 729.7" fill="none" stroke="#ffb302" stroke-width="11.0"/>
<path d="M1300.4 769.8 L1300.4 809.9" fill="none" stroke="#ffb302" stroke-width="11.0"/>
<path d="M1300.8 848.0 L1300.8 888.0" fill="none" stroke="#ffb302" stroke-width="11.0"/>
<path d="M1301.9 929.0 L1301.9 938.4" fill="none" stroke="#ffb302" stroke-width="11.0"/>
<path d="M1302.5 979.5 L1302.5 1019.6" fill="none" stroke="#ffb302" stroke-width="11.0"/>
<path d="M1303.8 1085.0 L1303.8 1124.4" fill="none" stroke="#ffb302" stroke-width="11.0"/>
<path d="M1304.0 1164.8 L1304.0 1226.8" fill="none" stroke="#ffb302" stroke-width="11.0"/>
<path d="M1305.0 1248.5 L1305.0 1306.4" fill="none" stroke="#ffb302" stroke-width="11.0"/>
<path d="M1305.0 1328.0 L1305.0 1368.0" fill="none" stroke="#ffb302" stroke-width="11.0"/>
<path d="M1308.0 1113.0 L1308.0 1072.7" fill="none" stroke="#ffb302" stroke-width="11.0"/>
<path d="M1307.5 1207.0 L1307.5 1152.4" fill="none" stroke="#ffb302" stroke-width="11.0"/>
<path d="M1308.0 1042.2 L1308.0 1003.2" fill="none" stroke="#ffb302" stroke-width="11.0"/>
<path d="M1309.0 962.0 L1309.0 935.3" fill="none" stroke="#ffb302" stroke-width="11.0"/>
<path d="M1310.7 894.0 L1310.7 855.0" fill="none" stroke="#ffb302" stroke-width="11.0"/>
<path d="M1312.8 817.0 L1312.8 804.8" fill="none" stroke="#ffb302" stroke-width="11.0"/>
<path d="M1317.9 760.6 C1318.3 762.5 1319.7 766.4 1320.5 772.0 C1321.3 777.6 1322.6 790.8 1323.0 794.5" fill="none" stroke="#ffb302" stroke-width="11.0"/>
<path d="M1325.1 817.0 L1325.1 824.0" fill="none" stroke="#ffb302" stroke-width="11.0"/>
<path d="M1327.1 865.4 L1327.1 904.5" fill="none" stroke="#ffb302" stroke-width="11.0"/>
<path d="M1330.2 983.6 L1330.2 1022.7" fill="none" stroke="#ffb302" stroke-width="11.0"/>
<path d="M1331.5 1062.4 L1331.5 1100.7" fill="none" stroke="#ffb302" stroke-width="11.0"/>
<path d="M1332.0 1141.0 L1332.0 1180.3" fill="none" stroke="#ffb302" stroke-width="11.0"/>
<path d="M1332.8 1211.3 L1332.8 1250.6" fill="none" stroke="#ffb302" stroke-width="11.0"/>
<path d="M1333.3 1291.0 L1333.3 1338.5" fill="none" stroke="#ffb302" stroke-width="11.0"/>
<path d="M1336.4 1368.0 L1336.4 1328.0" fill="none" stroke="#ffb302" stroke-width="11.0"/>
<path d="M1336.7 1287.8 L1336.7 1248.5" fill="none" stroke="#ffb302" stroke-width="11.0"/>
<path d="M1337.2 1207.2 L1337.2 1185.4" fill="none" stroke="#ffb302" stroke-width="11.0"/>
<path d="M1338.0 1156.5 L1338.0 1118.2" fill="none" stroke="#ffb302" stroke-width="11.0"/>
<path d="M1338.8 1077.0 L1338.8 1058.3" fill="none" stroke="#ffb302" stroke-width="11.0"/>
<path d="M1340.9 1017.5 L1340.9 977.5" fill="none" stroke="#ffb302" stroke-width="11.0"/>
<path d="M1343.6 938.4 L1343.6 900.4" fill="none" stroke="#ffb302" stroke-width="11.0"/>
<path d="M1353.9 904.5 L1353.9 947.6" fill="none" stroke="#ffb302" stroke-width="11.0"/>
<path d="M1357.0 988.8 L1357.0 1027.8" fill="none" stroke="#ffb302" stroke-width="11.0"/>
<path d="M1359.7 1094.5 L1359.7 1133.7" fill="none" stroke="#ffb302" stroke-width="11.0"/>
<path d="M1360.6 1174.0 L1360.6 1184.4" fill="none" stroke="#ffb302" stroke-width="11.0"/>
<path d="M1361.1 1196.8 L1361.1 1237.1" fill="none" stroke="#ffb302" stroke-width="11.0"/>
<path d="M1361.8 1277.5 L1361.8 1317.8" fill="none" stroke="#ffb302" stroke-width="11.0"/>
<path d="M1366.5 1368.0 L1366.5 1328.0" fill="none" stroke="#ffb302" stroke-width="11.0"/>
<path d="M1366.9 1287.8 L1366.9 1248.5" fill="none" stroke="#ffb302" stroke-width="11.0"/>
<path d="M1368.0 1207.2 L1368.0 1185.4" fill="none" stroke="#ffb302" stroke-width="11.0"/>
<path d="M1368.8 1153.4 L1368.8 1115.0" fill="none" stroke="#ffb302" stroke-width="11.0"/>
<path d="M1370.5 1073.8 L1371.8 1024.7" fill="none" stroke="#ffb302" stroke-width="11.0"/>
<path d="M1374.4 983.6 C1374.9 979.3 1376.0 961.6 1377.5 958.0 C1379.0 954.4 1382.7 961.3 1383.7 962.0" fill="none" stroke="#ffb302" stroke-width="11.0"/>
<path d="M1384.5 1007.0 L1384.5 1046.5" fill="none" stroke="#ffb302" stroke-width="11.0"/>
<path d="M1410.0 1011.0 L1412.5 1050.0" fill="none" stroke="#ffb302" stroke-width="11.0"/>
<path d="M1403.0 1039.0 L1401.0 1080.0" fill="none" stroke="#ffb302" stroke-width="11.0"/>
<path d="M1388.0 1093.0 L1388.0 1132.5" fill="none" stroke="#ffb302" stroke-width="11.0"/>
<path d="M1399.0 1120.0 L1399.0 1159.5" fill="none" stroke="#ffb302" stroke-width="11.0"/>
<path d="M1389.0 1173.0 L1389.0 1221.0" fill="none" stroke="#ffb302" stroke-width="11.0"/>
<path d="M1398.5 1185.0 L1398.5 1207.4" fill="none" stroke="#ffb302" stroke-width="11.0"/>
<path d="M1390.0 1261.4 L1390.0 1300.7" fill="none" stroke="#ffb302" stroke-width="11.0"/>
<path d="M1397.5 1248.0 L1397.5 1288.5" fill="none" stroke="#ffb302" stroke-width="11.0"/>
<path d="M1391.0 1309.3 L1391.0 1330.2" fill="none" stroke="#ffb302" stroke-width="11.0"/>
<path d="M1396.5 1329.0 L1396.5 1368.0" fill="none" stroke="#ffb302" stroke-width="11.0"/>
<path d="M1415.5 1090.7 L1415.5 1130.0" fill="none" stroke="#ffb302" stroke-width="11.0"/>
<path d="M1417.5 1170.5 L1417.5 1185.3" fill="none" stroke="#ffb302" stroke-width="11.0"/>
<path d="M1419.0 1208.6 L1419.0 1249.0" fill="none" stroke="#ffb302" stroke-width="11.0"/>
<path d="M1428.0 1197.6 L1428.0 1241.8" fill="none" stroke="#ffb302" stroke-width="11.0"/>
<path d="M1419.5 1289.7 L1419.5 1324.0" fill="none" stroke="#ffb302" stroke-width="11.0"/>
<path d="M1427.0 1278.6 L1427.0 1309.3" fill="none" stroke="#ffb302" stroke-width="11.0"/>
<path d="M1420.0 1355.0 L1420.0 1368.0" fill="none" stroke="#ffb302" stroke-width="11.0"/>
<path d="M1427.0 1329.0 L1427.0 1368.0" fill="none" stroke="#ffb302" stroke-width="11.0"/>
<path d="M1431.0 1063.0 C1431.3 1060.0 1432.2 1049.2 1433.0 1045.0 C1433.8 1040.8 1434.7 1037.7 1436.0 1037.5 C1437.3 1037.3 1439.7 1041.9 1441.0 1044.0 C1442.3 1046.1 1443.5 1049.0 1444.0 1050.0" fill="none" stroke="#ffb302" stroke-width="11.0"/>
<path d="M1433.5 1104.2 L1433.5 1063.7" fill="none" stroke="#ffb302" stroke-width="11.0"/>
<path d="M1444.5 1076.0 L1444.5 1116.5" fill="none" stroke="#ffb302" stroke-width="11.0"/>
<path d="M1446.0 1155.8 L1446.0 1185.3" fill="none" stroke="#ffb302" stroke-width="11.0"/>
<path d="M1447.0 1212.3 L1447.0 1251.6" fill="none" stroke="#ffb302" stroke-width="11.0"/>
<path d="M1448.5 1293.4 L1448.5 1309.3" fill="none" stroke="#ffb302" stroke-width="11.0"/>
<path d="M1448.0 1343.7 L1448.0 1368.0" fill="none" stroke="#ffb302" stroke-width="11.0"/>
<path d="M1455.0 1329.0 L1455.0 1368.0" fill="none" stroke="#ffb302" stroke-width="11.0"/>
<path d="M1457.5 1248.0 L1457.5 1288.5" fill="none" stroke="#ffb302" stroke-width="11.0"/>
<path d="M1458.5 1175.5 L1458.5 1207.4" fill="none" stroke="#ffb302" stroke-width="11.0"/>
<path d="M1462.0 1095.6 L1460.0 1135.0" fill="none" stroke="#ffb302" stroke-width="11.0"/>
<path d="M1463.3 1061.2 C1463.9 1059.6 1465.7 1052.2 1467.0 1051.4 C1468.3 1050.6 1470.4 1050.8 1471.4 1056.3 C1472.4 1061.8 1472.9 1079.9 1473.2 1084.6" fill="none" stroke="#ffb302" stroke-width="11.0"/>
<path d="M1474.5 1126.3 L1474.5 1165.6" fill="none" stroke="#ffb302" stroke-width="11.0"/>
<path d="M1476.5 1189.0 L1476.5 1228.3" fill="none" stroke="#ffb302" stroke-width="11.0"/>
<path d="M1478.5 1268.8 L1478.5 1326.5" fill="none" stroke="#ffb302" stroke-width="11.0"/>
<path d="M1478.0 1355.0 L1478.0 1368.0" fill="none" stroke="#ffb302" stroke-width="11.0"/>
<path d="M1485.0 1329.0 L1485.0 1368.0" fill="none" stroke="#ffb302" stroke-width="11.0"/>
<path d="M1486.0 1248.0 L1486.0 1287.2" fill="none" stroke="#ffb302" stroke-width="11.0"/>
<path d="M1487.0 1185.3 L1487.0 1206.2" fill="none" stroke="#ffb302" stroke-width="11.0"/>
<path d="M1489.0 1117.7 L1489.0 1157.0" fill="none" stroke="#ffb302" stroke-width="11.0"/>
<path d="M1494.1 1017.0 L1491.1 1077.2" fill="none" stroke="#ffb302" stroke-width="11.0"/>
<path d="M1908.5 1063L1910.5 1107" fill="none" stroke="#ffb302" stroke-width="4"/>
<path d="M1270.1 380.3 L1266.2 409.8 L1274.0 403.4 L1271.4 439.4" fill="none" stroke="#ffb302" stroke-width="3.5" stroke-linejoin="round"/>
<path d="M1426.0 1109.0 L1428.0 1148.0 L1431.0 1184.0" fill="none" stroke="#ffb302" stroke-width="3.5" stroke-linejoin="round"/>
</g>
<path d="M495.0 1368.0v-19M495.0 287.6v19 M782.7 1368.0v-19M782.7 287.6v19 M1070.5 1368.0v-19M1070.5 287.6v19 M1358.2 1368.0v-19M1358.2 287.6v19 M1645.9 1368.0v-19M1645.9 287.6v19 M207.3 441.9h19M1933.6 441.9h-19 M207.3 596.3h19M1933.6 596.3h-19 M207.3 750.6h19M1933.6 750.6h-19 M207.3 905.0h19M1933.6 905.0h-19 M207.3 1059.3h19M1933.6 1059.3h-19 M207.3 1213.7h19M1933.6 1213.7h-19" stroke="#262626" stroke-width="3.6" fill="none"/>
<rect x="207.3" y="287.6" width="1726.3" height="1080.4" stroke="#262626" stroke-width="3.6" fill="none"/>
<g font-family="Liberation Sans, Arial, sans-serif" font-size="67" fill="#262626"><text x="195" y="314.9" text-anchor="end">-55</text><text x="195" y="469.2" text-anchor="end">-60</text><text x="195" y="623.6" text-anchor="end">-65</text><text x="195" y="777.9" text-anchor="end">-70</text><text x="195" y="932.3" text-anchor="end">-75</text><text x="195" y="1086.6" text-anchor="end">-80</text><text x="195" y="1241.0" text-anchor="end">-85</text><text x="195" y="1395.3" text-anchor="end">-90</text><text class="m1" x="207.3" y="1449" text-anchor="middle">-30</text><text class="m1" x="495.0" y="1449" text-anchor="middle">-20</text><text class="m1" x="782.7" y="1449" text-anchor="middle">-10</text><text class="m1" x="1070.5" y="1449" text-anchor="middle">0</text><text class="m1" x="1358.2" y="1449" text-anchor="middle">10</text><text class="m1" x="1645.9" y="1449" text-anchor="middle">20</text><text class="m1" x="1933.6" y="1449" text-anchor="middle">30</text></g>
<text font-family="Liberation Sans, Arial, sans-serif" font-size="66" fill="#262626" x="1070.5" y="1532" text-anchor="middle" letter-spacing="0.5">Frequency(MHz)</text>
<text font-family="Liberation Sans, Arial, sans-serif" font-size="66" fill="#262626" transform="translate(74 826.8) rotate(-90)" x="0" y="0" text-anchor="middle" letter-spacing="0.5">PSD(dBW/Hz)</text>
<path d="M191.7 52.5H441.9" stroke="#0072bf" stroke-width="9.8"/>
<text class="m1" font-family="Liberation Sans, Arial, sans-serif" font-size="66" fill="#000" y="78" letter-spacing="0.5"><tspan x="460.7">IFH</tspan><tspan x="576" dy="-1.5">–</tspan><tspan x="621.0" dy="1.5">BOC([14,1,1;14,1,1],[1,1])</tspan></text>
<path d="M191.7 143H441.9" stroke="#fa5208" stroke-width="9.8"/>
<text class="m1" font-family="Liberation Sans, Arial, sans-serif" font-size="66" fill="#000" y="169" letter-spacing="0.5"><tspan x="460.7">IFH</tspan><tspan x="576" dy="-1.5">–</tspan><tspan x="621.0" dy="1.5">BOC([14,1,8;14,1,1],[1,1])</tspan></text>
<path d="M191.7 233H231.4" stroke="#ffb302" stroke-width="8.6"/>
<path d="M271.7 233H311.5" stroke="#ffb302" stroke-width="8.6"/>
<path d="M320 233H347.5" stroke="#ffb302" stroke-width="8.6"/>
<path d="M387.2 233H426.8" stroke="#ffb302" stroke-width="8.6"/>
<text class="m1" font-family="Liberation Sans, Arial, sans-serif" font-size="66" fill="#000" y="259" letter-spacing="0.5"><tspan x="460.7">IFH</tspan><tspan x="576" dy="-1.5">–</tspan><tspan x="621.0" dy="1.5">BOC([14,1,1;7,1,7],[1,1])</tspan></text>
<rect x="1484" y="318" width="264" height="240.79999999999995" fill="#fff" stroke="#262626" stroke-width="3.7"/>
<path d="M1484.0 393.0 1485.2 396.0 1486.4 398.9 1487.6 401.7 1488.8 404.5 1490.0 407.2 1491.2 409.8 1492.5 412.4 1493.7 415.0 1494.9 417.4 1496.1 419.8 1497.3 422.1 1498.5 424.4 1499.7 426.6 1500.9 428.8 1502.1 430.8 1503.3 432.8 1504.5 434.8 1505.7 436.6 1506.9 438.5 1508.2 440.2 1509.4 441.9 1510.6 443.4 1511.8 445.0 1513.0 446.4 1514.2 447.8 1515.4 449.1 1516.6 450.4 1517.8 451.5 1519.0 452.6 1520.2 453.7 1521.4 454.6 1522.6 455.5 1523.9 456.3 1525.1 457.0 1526.3 457.7 1527.5 458.2 1528.7 458.7 1529.9 459.2 1531.1 459.5 1532.3 459.8 1533.5 460.0 1534.7 460.1 1535.9 460.1 1537.1 460.0 1538.3 459.7 1539.6 459.3 1540.8 458.6 1542.0 457.9 1543.2 457.0 1544.4 455.9 1545.6 454.8 1546.8 453.5 1548.0 452.1 1549.2 450.6 1550.4 449.0 1551.6 447.2 1552.8 445.5 1554.1 443.6 1555.3 441.7 1556.5 439.7 1557.7 437.6 1558.9 435.5 1560.1 433.4 1561.3 431.2 1562.5 429.0 1563.7 426.8 1564.9 424.5 1566.1 422.3 1567.3 420.1 1568.5 417.9 1569.8 415.7 1571.0 413.5 1572.2 411.3 1573.4 409.2 1574.6 407.2 1575.8 405.2 1577.0 403.3 1578.2 401.4 1579.4 399.6 1580.6 397.9 1581.8 396.3 1583.0 394.8 1584.2 393.5 1585.5 392.2 1586.7 391.0 1587.9 390.0 1589.1 389.1 1590.3 388.4 1591.5 387.8 1592.7 387.3 1593.9 387.1 1595.1 387.0 1596.3 387.1 1597.5 387.3 1598.7 387.7 1599.9 388.3 1601.2 388.9 1602.4 389.8 1603.6 390.7 1604.8 391.7 1606.0 392.9 1607.2 394.1 1608.4 395.5 1609.6 396.9 1610.8 398.4 1612.0 400.0 1613.2 401.7 1614.4 403.4 1615.6 405.1 1616.9 406.9 1618.1 408.8 1619.3 410.6 1620.5 412.5 1621.7 414.4 1622.9 416.2 1624.1 418.1 1625.3 420.0 1626.5 421.9 1627.7 423.7 1628.9 425.5 1630.1 427.2 1631.3 429.0 1632.6 430.6 1633.8 432.2 1635.0 433.7 1636.2 435.2 1637.4 436.5 1638.6 437.8 1639.8 439.0 1641.0 440.0 1642.2 441.0 1643.4 441.8 1644.6 442.5 1645.8 443.0 1647.0 443.4 1648.3 443.7 1649.5 443.8 1650.7 443.7 1651.9 443.6 1653.1 443.3 1654.3 442.9 1655.5 442.3 1656.7 441.7 1657.9 440.9 1659.1 440.1 1660.3 439.2 1661.5 438.2 1662.7 437.1 1664.0 435.9 1665.2 434.6 1666.4 433.3 1667.6 432.0 1668.8 430.5 1670.0 429.1 1671.2 427.5 1672.4 426.0 1673.6 424.4 1674.8 422.8 1676.0 421.1 1677.2 419.4 1678.4 417.7 1679.7 416.0 1680.9 414.3 1682.1 412.6 1683.3 411.0 1684.5 409.3 1685.7 407.6 1686.9 406.0 1688.1 404.3 1689.3 402.8 1690.5 401.2 1691.7 399.7 1692.9 398.2 1694.2 396.8 1695.4 395.5 1696.6 394.2 1697.8 393.0 1699.0 391.8 1700.2 390.8 1701.4 389.8 1702.6 388.9 1703.8 388.1 1705.0 387.4 1706.2 386.8 1707.4 386.3 1708.6 385.9 1709.9 385.7 1711.1 385.5 1712.3 385.5 1713.5 385.6 1714.7 385.7 1715.9 385.9 1717.1 386.2 1718.3 386.6 1719.5 387.0 1720.7 387.5 1721.9 388.1 1723.1 388.7 1724.3 389.4 1725.6 390.2 1726.8 391.0 1728.0 391.9 1729.2 392.8 1730.4 393.8 1731.6 394.9 1732.8 396.0 1734.0 397.2 1735.2 398.4 1736.4 399.7 1737.6 401.0 1738.8 402.4 1740.0 403.8 1741.3 405.2 1742.5 406.8 1743.7 408.3 1744.9 409.9 1746.1 411.6 1747.3 413.3 1748.5 415.0" fill="none" stroke="#0072bf" stroke-width="10" stroke-linejoin="round"/>
<path d="M1484.0 410.0 1485.2 412.8 1486.4 415.6 1487.6 418.3 1488.8 421.0 1490.0 423.6 1491.2 426.1 1492.5 428.6 1493.7 431.0 1494.9 433.4 1496.1 435.7 1497.3 437.9 1498.5 440.1 1499.7 442.2 1500.9 444.2 1502.1 446.2 1503.3 448.1 1504.5 449.9 1505.7 451.7 1506.9 453.4 1508.2 455.0 1509.4 456.5 1510.6 457.9 1511.8 459.3 1513.0 460.6 1514.2 461.8 1515.4 463.0 1516.6 464.0 1517.8 465.0 1519.0 465.9 1520.2 466.7 1521.4 467.4 1522.6 468.1 1523.9 468.6 1525.1 469.1 1526.3 469.4 1527.5 469.7 1528.7 469.9 1529.9 470.0 1531.1 470.0 1532.3 469.8 1533.5 469.5 1534.7 469.0 1535.9 468.4 1537.1 467.6 1538.3 466.7 1539.6 465.7 1540.8 464.5 1542.0 463.3 1543.2 461.9 1544.4 460.4 1545.6 458.9 1546.8 457.2 1548.0 455.5 1549.2 453.7 1550.4 451.9 1551.6 450.0 1552.8 448.0 1554.1 446.0 1555.3 443.9 1556.5 441.9 1557.7 439.8 1558.9 437.7 1560.1 435.6 1561.3 433.4 1562.5 431.3 1563.7 429.2 1564.9 427.1 1566.1 425.1 1567.3 423.1 1568.5 421.1 1569.8 419.2 1571.0 417.3 1572.2 415.5 1573.4 413.7 1574.6 412.0 1575.8 410.4 1577.0 408.9 1578.2 407.5 1579.4 406.2 1580.6 405.0 1581.8 403.9 1583.0 403.0 1584.2 402.1 1585.5 401.5 1586.7 400.9 1587.9 400.5 1589.1 400.3 1590.3 400.2 1591.5 400.3 1592.7 400.5 1593.9 400.8 1595.1 401.3 1596.3 401.9 1597.5 402.6 1598.7 403.4 1599.9 404.3 1601.2 405.3 1602.4 406.4 1603.6 407.5 1604.8 408.7 1606.0 410.1 1607.2 411.4 1608.4 412.8 1609.6 414.3 1610.8 415.8 1612.0 417.4 1613.2 419.0 1614.4 420.6 1615.6 422.2 1616.9 423.9 1618.1 425.5 1619.3 427.2 1620.5 428.8 1621.7 430.5 1622.9 432.1 1624.1 433.7 1625.3 435.3 1626.5 436.8 1627.7 438.3 1628.9 439.8 1630.1 441.2 1631.3 442.5 1632.6 443.8 1633.8 445.0 1635.0 446.1 1636.2 447.2 1637.4 448.1 1638.6 449.0 1639.8 449.8 1641.0 450.4 1642.2 451.0 1643.4 451.4 1644.6 451.7 1645.8 451.9 1647.0 451.9 1648.3 451.8 1649.5 451.6 1650.7 451.2 1651.9 450.8 1653.1 450.2 1654.3 449.6 1655.5 448.8 1656.7 448.0 1657.9 447.1 1659.1 446.1 1660.3 445.0 1661.5 443.8 1662.7 442.6 1664.0 441.3 1665.2 440.0 1666.4 438.6 1667.6 437.2 1668.8 435.7 1670.0 434.3 1671.2 432.7 1672.4 431.2 1673.6 429.6 1674.8 428.0 1676.0 426.4 1677.2 424.9 1678.4 423.3 1679.7 421.7 1680.9 420.1 1682.1 418.6 1683.3 417.0 1684.5 415.5 1685.7 414.1 1686.9 412.6 1688.1 411.2 1689.3 409.9 1690.5 408.6 1691.7 407.4 1692.9 406.2 1694.2 405.1 1695.4 404.1 1696.6 403.2 1697.8 402.3 1699.0 401.5 1700.2 400.9 1701.4 400.3 1702.6 399.8 1703.8 399.5 1705.0 399.2 1706.2 399.1 1707.4 399.1 1708.6 399.2 1709.9 399.3 1711.1 399.5 1712.3 399.8 1713.5 400.1 1714.7 400.5 1715.9 401.0 1717.1 401.5 1718.3 402.1 1719.5 402.7 1720.7 403.4 1721.9 404.2 1723.1 405.0 1724.3 405.9 1725.6 406.8 1726.8 407.8 1728.0 408.8 1729.2 409.9 1730.4 411.0 1731.6 412.2 1732.8 413.5 1734.0 414.8 1735.2 416.1 1736.4 417.5 1737.6 419.0 1738.8 420.5 1740.0 422.0 1741.3 423.6 1742.5 425.2 1743.7 426.9 1744.9 428.6 1746.1 430.4 1747.3 432.2 1748.5 434.0" fill="none" stroke="#fa5208" stroke-width="10" stroke-linejoin="round"/>
<path d="M1469.2 555L1426 657" stroke="#000" stroke-width="4.4" fill="none"/>
<path d="M1403.2 713.2 L1406.5 624 L1424.8 659.5 L1462.8 648.8 Z" fill="#000" stroke="#000" stroke-width="3" stroke-linejoin="round"/>
<g fill="#fff"><rect x="760.98" y="1443.29" width="12.44" height="6.21"/><rect x="779.34" y="1443.29" width="11.92" height="6.21"/><rect x="1325.34" y="1443.29" width="12.44" height="6.21"/><rect x="1343.70" y="1443.29" width="11.92" height="6.21"/><rect x="811.16" y="72.37" width="12.27" height="6.13"/><rect x="829.26" y="72.37" width="11.75" height="6.13"/><rect x="904.41" y="72.37" width="12.27" height="6.13"/><rect x="922.51" y="72.37" width="11.75" height="6.13"/><rect x="960.45" y="72.37" width="12.27" height="6.13"/><rect x="978.55" y="72.37" width="11.75" height="6.13"/><rect x="1016.50" y="72.37" width="12.27" height="6.13"/><rect x="1034.60" y="72.37" width="11.75" height="6.13"/><rect x="1109.73" y="72.37" width="12.27" height="6.13"/><rect x="1127.84" y="72.37" width="11.75" height="6.13"/><rect x="1165.78" y="72.37" width="12.27" height="6.13"/><rect x="1183.88" y="72.37" width="11.75" height="6.13"/><rect x="1259.50" y="72.37" width="12.27" height="6.13"/><rect x="1277.60" y="72.37" width="11.75" height="6.13"/><rect x="1315.55" y="72.37" width="12.27" height="6.13"/><rect x="1333.65" y="72.37" width="11.75" height="6.13"/><rect x="811.16" y="163.37" width="12.27" height="6.13"/><rect x="829.26" y="163.37" width="11.75" height="6.13"/><rect x="904.41" y="163.37" width="12.27" height="6.13"/><rect x="922.51" y="163.37" width="11.75" height="6.13"/><rect x="1016.50" y="163.37" width="12.27" height="6.13"/><rect x="1034.60" y="163.37" width="11.75" height="6.13"/><rect x="1109.73" y="163.37" width="12.27" height="6.13"/><rect x="1127.84" y="163.37" width="11.75" height="6.13"/><rect x="1165.78" y="163.37" width="12.27" height="6.13"/><rect x="1183.88" y="163.37" width="11.75" height="6.13"/><rect x="1259.50" y="163.37" width="12.27" height="6.13"/><rect x="1277.60" y="163.37" width="11.75" height="6.13"/><rect x="1315.55" y="163.37" width="12.27" height="6.13"/><rect x="1333.65" y="163.37" width="11.75" height="6.13"/><rect x="811.16" y="253.37" width="12.27" height="6.13"/><rect x="829.26" y="253.37" width="11.75" height="6.13"/><rect x="904.41" y="253.37" width="12.27" height="6.13"/><rect x="922.51" y="253.37" width="11.75" height="6.13"/><rect x="960.45" y="253.37" width="12.27" height="6.13"/><rect x="978.55" y="253.37" width="11.75" height="6.13"/><rect x="1072.53" y="253.37" width="12.27" height="6.13"/><rect x="1090.63" y="253.37" width="11.75" height="6.13"/><rect x="1222.30" y="253.37" width="12.27" height="6.13"/><rect x="1240.40" y="253.37" width="11.75" height="6.13"/><rect x="1278.34" y="253.37" width="12.27" height="6.13"/><rect x="1296.45" y="253.37" width="11.75" height="6.13"/></g>
</svg>
</body></html>
